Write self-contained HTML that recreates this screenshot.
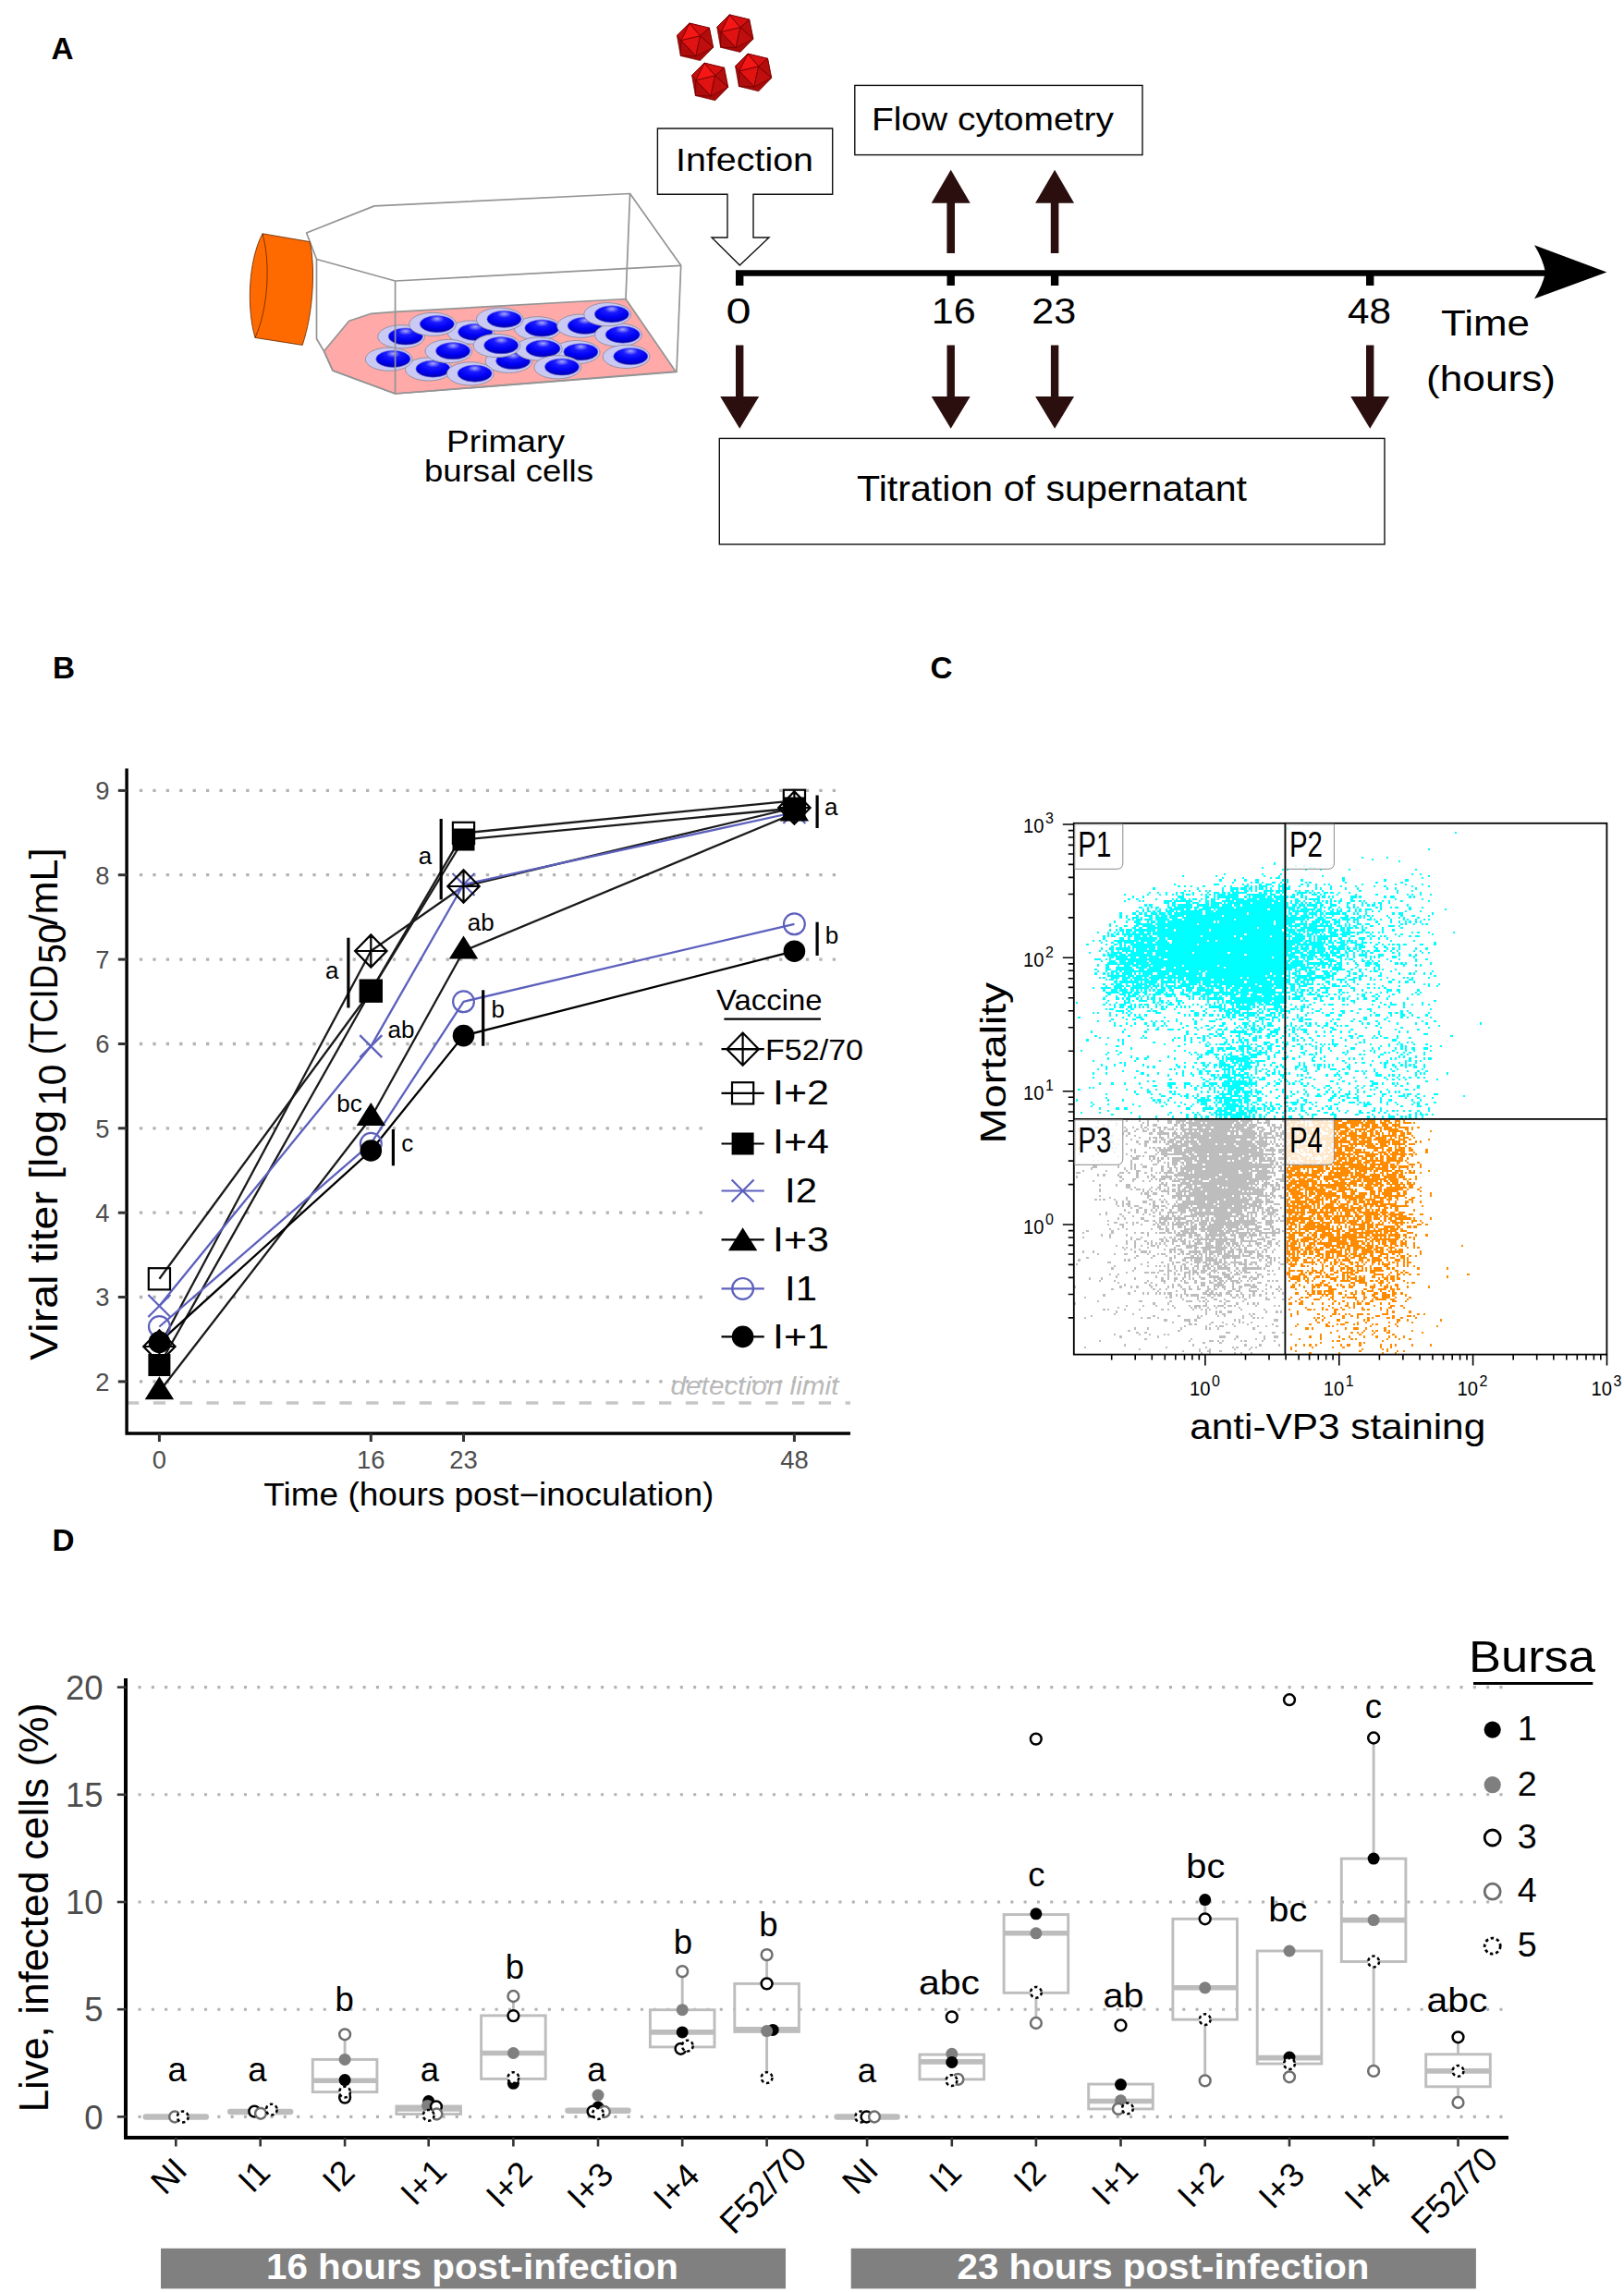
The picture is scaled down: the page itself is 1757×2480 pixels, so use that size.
<!DOCTYPE html>
<html lang="en"><head><meta charset="utf-8"><title>Figure</title>
<style>html,body{margin:0;padding:0;background:#fff}svg{display:block}text{font-family:"Liberation Sans",sans-serif}</style></head>
<body>
<svg width="1757" height="2480" viewBox="0 0 1757 2480">
<rect width="1757" height="2480" fill="#fff"/>
<g id="panelA">
<text x="55.5" y="63.8" font-size="33.3" font-weight="bold">A</text>
<defs><radialGradient id="nuc" cx="50%" cy="28%" r="75%" fx="50%" fy="18%"><stop offset="0" stop-color="#a8a8ff"/><stop offset="0.28" stop-color="#1a1aff"/><stop offset="0.62" stop-color="#0000f4"/><stop offset="1" stop-color="#0000a0"/></radialGradient><g id="cell"><ellipse cx="-4.7" cy="0.3" rx="25.4" ry="12.6" fill="#c9c9f3" stroke="#8c8c9c" stroke-width="0.9"/><ellipse cx="0" cy="0" rx="18.6" ry="9.1" fill="url(#nuc)" stroke="#6a6ad8" stroke-width="0.6"/></g></defs>
<g fill="none" stroke="#949494" stroke-width="1.7" stroke-linejoin="round">
<path d="M681.6,209.5 L677,323.5"/>
<path d="M350.5,380 L377.7,347.3 L401.7,339.3 L427.6,337.4 L677,323.5 L731,402 L427.6,426 L360,401 Z" fill="#ffa9a9"/>
</g>
<use href="#cell" x="438.8" y="364"/>
<use href="#cell" x="514.2" y="359.3"/>
<use href="#cell" x="586.4" y="355"/>
<use href="#cell" x="632.8" y="352.4"/>
<use href="#cell" x="673.7" y="362.1"/>
<use href="#cell" x="555.2" y="390.5"/>
<use href="#cell" x="468.5" y="399.1"/>
<use href="#cell" x="628.4" y="380.8"/>
<use href="#cell" x="587.5" y="377.2"/>
<use href="#cell" x="425.4" y="388.4"/>
<use href="#cell" x="472.8" y="350.6"/>
<use href="#cell" x="545.5" y="345.3"/>
<use href="#cell" x="661.9" y="339.9"/>
<use href="#cell" x="490.1" y="379.7"/>
<use href="#cell" x="542.2" y="373.7"/>
<use href="#cell" x="682.3" y="385.6"/>
<use href="#cell" x="513.6" y="404.1"/>
<use href="#cell" x="608" y="397"/>
<g fill="none" stroke="#949494" stroke-width="1.7" stroke-linejoin="round">
<path d="M331.6,252 L404.9,222.9 L681.6,209.5 L736.7,287.3 L732,402.5 L427.6,426 L360,401 L350.5,380 L342.5,366.5 L342.5,280.5 L331.6,252 Z"/>
<path d="M342.5,280.5 L427.6,304 L736.7,287.3 M427.6,304 L427.6,426"/>
</g>
<path d="M284,252.8 L335.2,261.6 C341.5,290 339,338 327.2,373.4 L276,365.4 C267,335 268,283 284,252.8 Z" fill="#ff6a00" stroke="#5a2500" stroke-width="0.8"/>
<path d="M284,252.8 C293,285 290,335 276,365.4" fill="none" stroke="#5a2500" stroke-width="0.8"/>
<text x="547" y="489" font-size="33.5" text-anchor="middle" textLength="128" lengthAdjust="spacingAndGlyphs">Primary</text>
<text x="550.5" y="521" font-size="33.5" text-anchor="middle" textLength="183" lengthAdjust="spacingAndGlyphs">bursal cells</text>
<defs><g id="ico" stroke="#6a0000" stroke-width="0.7" stroke-linejoin="round"><polygon points="-6,-20.3 15.5,-15.1 19.7,6 5.7,20.3 -15.6,15.1 -19.5,-6.9" fill="#a80a0a"/><polygon points="5.7,-6.5 -6,-20.3 -15.1,-1.5" fill="#f51616"/><polygon points="5.7,-6.5 -15.1,-1.5 0.9,15.5" fill="#e01212"/><polygon points="5.7,-6.5 -6,-20.3 15.5,-15.1" fill="#d41010"/><polygon points="5.7,-6.5 15.5,-15.1 19.7,6" fill="#b50c0c"/><polygon points="5.7,-6.5 19.7,6 0.9,15.5" fill="#c00e0e"/><polygon points="-6,-20.3 -19.5,-6.9 -15.1,-1.5" fill="#c40e0e"/><polygon points="-15.1,-1.5 -15.6,15.1 0.9,15.5" fill="#b00c0c"/></g></defs>
<use href="#ico" x="751.9" y="45.3"/>
<use href="#ico" x="795.2" y="36.2"/>
<use href="#ico" x="768" y="88.4"/>
<use href="#ico" x="815" y="78.4"/>
<g fill="#fff" stroke="#111" stroke-width="1.4">
<path d="M711.4,139 H900.7 V210.3 H815 V257 H832 L800.3,287 L770,257 H787 V210.3 H711.4 Z"/>
<rect x="924.8" y="92.4" width="311.2" height="75.2"/>
<rect x="778.3" y="474.4" width="719.7" height="114.6"/>
</g>
<text x="731" y="184.5" font-size="35" textLength="149" lengthAdjust="spacingAndGlyphs">Infection</text>
<text x="942.9" y="141.4" font-size="35" textLength="262" lengthAdjust="spacingAndGlyphs">Flow cytometry</text>
<text x="927" y="542.4" font-size="38.5" textLength="422" lengthAdjust="spacingAndGlyphs">Titration of supernatant</text>
<path d="M796,295.5 H1675" stroke="#000" stroke-width="6.4" fill="none"/>
<path d="M1738.4,294.5 L1660,265.3 Q1669,280 1672,294.5 Q1669,309 1660,323.3 Z" fill="#000"/>
<rect x="796" y="293" width="8.4" height="16" fill="#000"/>
<rect x="1024.5" y="293" width="8.4" height="16" fill="#000"/>
<rect x="1136.9" y="293" width="8.4" height="16" fill="#000"/>
<rect x="1478" y="293" width="8.4" height="16" fill="#000"/>
<path d="M796,373.4 H804.4 V429 H821.2 L800.2,463.8 L779.2,429 H796 Z" fill="#2b0f0e"/>
<path d="M1024.5,373.4 H1032.9 V429 H1049.7 L1028.7,463.8 L1007.7,429 H1024.5 Z" fill="#2b0f0e"/>
<path d="M1136.9,373.4 H1145.3 V429 H1162.1 L1141.1,463.8 L1120.1,429 H1136.9 Z" fill="#2b0f0e"/>
<path d="M1478,373.4 H1486.4 V429 H1503.2 L1482.2,463.8 L1461.2,429 H1478 Z" fill="#2b0f0e"/>
<path d="M1028.7,183.8 L1049.7,219.7 H1033 V274 H1024.4 V219.7 H1007.7 Z" fill="#2b0f0e"/>
<path d="M1141.1,183.8 L1162.1,219.7 H1145.4 V274 H1136.8 V219.7 H1120.1 Z" fill="#2b0f0e"/>
<text x="799" y="350" font-size="39.5" text-anchor="middle" textLength="27" lengthAdjust="spacingAndGlyphs">0</text>
<text x="1031.8" y="350" font-size="39.5" text-anchor="middle" textLength="48" lengthAdjust="spacingAndGlyphs">16</text>
<text x="1140.2" y="350" font-size="39.5" text-anchor="middle" textLength="48" lengthAdjust="spacingAndGlyphs">23</text>
<text x="1481.5" y="350" font-size="39.5" text-anchor="middle" textLength="47" lengthAdjust="spacingAndGlyphs">48</text>
<text x="1607" y="363" font-size="39.5" text-anchor="middle" textLength="96" lengthAdjust="spacingAndGlyphs">Time</text>
<text x="1613" y="422.7" font-size="39.5" text-anchor="middle" textLength="140" lengthAdjust="spacingAndGlyphs">(hours)</text>
</g>
<g id="panelB">
<text x="57" y="734.4" font-size="33.3" font-weight="bold">B</text>
<g stroke="#b3b3b3" stroke-width="3.3" stroke-dasharray="3.3 11.12" fill="none">
<path d="M150.9,1494.9 H915"/>
<path d="M150.9,1403.5 H915"/>
<path d="M150.9,1312.2 H915"/>
<path d="M150.9,1220.8 H915"/>
<path d="M150.9,1129.5 H915"/>
<path d="M150.9,1038.1 H915"/>
<path d="M150.9,946.7 H915"/>
<path d="M150.9,855.4 H915"/>
</g>
<path d="M137,1518 H920" stroke="#c6c6c6" stroke-width="3.7" stroke-dasharray="13.3 15.5" fill="none"/>
<text x="907.5" y="1509.4" font-size="28.5" text-anchor="end" textLength="182" lengthAdjust="spacingAndGlyphs" fill="#b9b9b9" font-style="italic">detection limit</text>
<polyline points="172.4,1457 401.3,1029 501.5,959 859.4,874" fill="none" stroke="#1a1a1a" stroke-width="2.3" stroke-linejoin="round"/>
<polyline points="172.4,1383.8 401.3,1072.2 501.5,901.4 859.4,866.3" fill="none" stroke="#1a1a1a" stroke-width="2.3" stroke-linejoin="round"/>
<polyline points="172.4,1477 401.3,1072.2 501.5,908.5 859.4,874.5" fill="none" stroke="#1a1a1a" stroke-width="2.3" stroke-linejoin="round"/>
<polyline points="172.4,1413 401.3,1132.1 501.5,957 859.4,879" fill="none" stroke="#5c60bd" stroke-width="2.3" stroke-linejoin="round"/>
<polyline points="172.4,1505.8 401.3,1209.5 501.5,1029 859.4,880" fill="none" stroke="#1a1a1a" stroke-width="2.3" stroke-linejoin="round"/>
<polyline points="172.4,1435.5 401.3,1237.3 501.5,1083.8 859.4,999.8" fill="none" stroke="#5c60bd" stroke-width="2.3" stroke-linejoin="round"/>
<polyline points="172.4,1452.4 401.3,1245 501.5,1120.6 859.4,1029.2" fill="none" stroke="#000" stroke-width="2.3" stroke-linejoin="round"/>
<path d="M160.4,1401 L184.4,1425 M160.4,1425 L184.4,1401" fill="none" stroke="#5c60bd" stroke-width="2.2"/>
<path d="M389.3,1120.1 L413.3,1144.1 M389.3,1144.1 L413.3,1120.1" fill="none" stroke="#5c60bd" stroke-width="2.2"/>
<path d="M489.5,945 L513.5,969 M489.5,969 L513.5,945" fill="none" stroke="#5c60bd" stroke-width="2.2"/>
<path d="M847.4,867 L871.4,891 M847.4,891 L871.4,867" fill="none" stroke="#5c60bd" stroke-width="2.2"/>
<path d="M155.2,1457 L172.4,1439.4 L189.6,1457 L172.4,1474.6 Z M155.2,1457 H189.6 M172.4,1439.4 V1474.6" fill="none" stroke="#000" stroke-width="2.2"/>
<path d="M384.1,1029 L401.3,1011.4 L418.5,1029 L401.3,1046.6 Z M384.1,1029 H418.5 M401.3,1011.4 V1046.6" fill="none" stroke="#000" stroke-width="2.2"/>
<path d="M484.3,959 L501.5,941.4 L518.7,959 L501.5,976.6 Z M484.3,959 H518.7 M501.5,941.4 V976.6" fill="none" stroke="#000" stroke-width="2.2"/>
<path d="M842.2,874 L859.4,856.4 L876.6,874 L859.4,891.6 Z M842.2,874 H876.6 M859.4,856.4 V891.6" fill="none" stroke="#000" stroke-width="2.2"/>
<rect x="160.8" y="1372.2" width="23.2" height="23.2" fill="none" stroke="#000" stroke-width="2.2"/>
<rect x="389.7" y="1060.6" width="23.2" height="23.2" fill="none" stroke="#000" stroke-width="2.2"/>
<rect x="489.9" y="889.8" width="23.2" height="23.2" fill="none" stroke="#000" stroke-width="2.2"/>
<rect x="847.8" y="854.7" width="23.2" height="23.2" fill="none" stroke="#000" stroke-width="2.2"/>
<rect x="160.4" y="1465" width="24" height="24" fill="#000"/>
<rect x="389.3" y="1060.2" width="24" height="24" fill="#000"/>
<rect x="489.5" y="896.5" width="24" height="24" fill="#000"/>
<rect x="847.4" y="862.5" width="24" height="24" fill="#000"/>
<path d="M172.4,1489.2 L188.1,1514.2 H156.7 Z" fill="#000"/>
<path d="M401.3,1192.9 L417,1217.9 H385.6 Z" fill="#000"/>
<path d="M501.5,1012.4 L517.2,1037.4 H485.8 Z" fill="#000"/>
<path d="M859.4,863.4 L875.1,888.4 H843.7 Z" fill="#000"/>
<circle cx="172.4" cy="1435.5" r="11.4" fill="none" stroke="#5c60bd" stroke-width="2.2"/>
<circle cx="401.3" cy="1237.3" r="11.4" fill="none" stroke="#5c60bd" stroke-width="2.2"/>
<circle cx="501.5" cy="1083.8" r="11.4" fill="none" stroke="#5c60bd" stroke-width="2.2"/>
<circle cx="859.4" cy="999.8" r="11.4" fill="none" stroke="#5c60bd" stroke-width="2.2"/>
<circle cx="172.4" cy="1452.4" r="11.8" fill="#000"/>
<circle cx="401.3" cy="1245" r="11.8" fill="#000"/>
<circle cx="501.5" cy="1120.6" r="11.8" fill="#000"/>
<circle cx="859.4" cy="1029.2" r="11.8" fill="#000"/>
<rect x="761" y="1058" width="195" height="416" fill="#fff"/>
<path d="M137.1,831.5 V1551 H920" fill="none" stroke="#000" stroke-width="3.4" stroke-linejoin="miter"/>
<g stroke="#333" stroke-width="3">
<path d="M127.8,1494.9 H137"/>
<path d="M127.8,1403.5 H137"/>
<path d="M127.8,1312.2 H137"/>
<path d="M127.8,1220.8 H137"/>
<path d="M127.8,1129.5 H137"/>
<path d="M127.8,1038.1 H137"/>
<path d="M127.8,946.7 H137"/>
<path d="M127.8,855.4 H137"/>
<path d="M172.4,1551 V1560"/>
<path d="M401.3,1551 V1560"/>
<path d="M501.5,1551 V1560"/>
<path d="M859.4,1551 V1560"/>
</g>
<text x="118.5" y="1504.8" font-size="27.4" text-anchor="end" fill="#4d4d4d">2</text>
<text x="118.5" y="1413.44" font-size="27.4" text-anchor="end" fill="#4d4d4d">3</text>
<text x="118.5" y="1322.08" font-size="27.4" text-anchor="end" fill="#4d4d4d">4</text>
<text x="118.5" y="1230.72" font-size="27.4" text-anchor="end" fill="#4d4d4d">5</text>
<text x="118.5" y="1139.36" font-size="27.4" text-anchor="end" fill="#4d4d4d">6</text>
<text x="118.5" y="1048" font-size="27.4" text-anchor="end" fill="#4d4d4d">7</text>
<text x="118.5" y="956.64" font-size="27.4" text-anchor="end" fill="#4d4d4d">8</text>
<text x="118.5" y="865.28" font-size="27.4" text-anchor="end" fill="#4d4d4d">9</text>
<text x="172.4" y="1588.8" font-size="27.4" text-anchor="middle" fill="#4d4d4d">0</text>
<text x="401.3" y="1588.8" font-size="27.4" text-anchor="middle" fill="#4d4d4d">16</text>
<text x="501.5" y="1588.8" font-size="27.4" text-anchor="middle" fill="#4d4d4d">23</text>
<text x="859.4" y="1588.8" font-size="27.4" text-anchor="middle" fill="#4d4d4d">48</text>
<text x="528.8" y="1629.4" font-size="34.4" text-anchor="middle" textLength="487" lengthAdjust="spacingAndGlyphs">Time (hours post−inoculation)</text>
<text x="62.2" y="1471.9" font-size="42.7" textLength="271" lengthAdjust="spacingAndGlyphs" transform="rotate(-90 62.2 1471.9)">Viral titer [log</text>
<text x="70.8" y="1196.8" font-size="42.7" textLength="45" lengthAdjust="spacingAndGlyphs" transform="rotate(-90 70.8 1196.8)">10</text>
<text x="62.2" y="1141" font-size="42.7" textLength="97" lengthAdjust="spacingAndGlyphs" transform="rotate(-90 62.2 1141)">(TCID</text>
<text x="70.8" y="1042.6" font-size="42.7" textLength="43" lengthAdjust="spacingAndGlyphs" transform="rotate(-90 70.8 1042.6)">50</text>
<text x="62.2" y="1001.5" font-size="42.7" textLength="84" lengthAdjust="spacingAndGlyphs" transform="rotate(-90 62.2 1001.5)">/mL]</text>
<g stroke="#000" stroke-width="3.2">
<path d="M376.9,1014.7 V1090.5"/>
<path d="M477.2,886 V973.4"/>
<path d="M522.7,1071.3 V1131.7"/>
<path d="M425.4,1222 V1261.3"/>
<path d="M884.1,860.5 V896"/>
<path d="M884.1,997.7 V1034"/>
</g>
<text x="359.2" y="1058.8" font-size="26" text-anchor="middle">a</text>
<text x="460" y="935" font-size="26" text-anchor="middle">a</text>
<text x="520.2" y="1007" font-size="26" text-anchor="middle">ab</text>
<text x="538.7" y="1101" font-size="26" text-anchor="middle">b</text>
<text x="434" y="1123.1" font-size="26" text-anchor="middle">ab</text>
<text x="378" y="1202.8" font-size="26" text-anchor="middle">bc</text>
<text x="440.8" y="1246" font-size="26" text-anchor="middle">c</text>
<text x="899.2" y="882.4" font-size="26" text-anchor="middle">a</text>
<text x="900" y="1021" font-size="26" text-anchor="middle">b</text>
<text x="775" y="1093.4" font-size="31.4" textLength="114.5" lengthAdjust="spacingAndGlyphs">Vaccine</text>
<path d="M783.4,1102.7 H888" stroke="#000" stroke-width="2.3"/>
<path d="M780.5,1135.2 H826.8" stroke="#000" stroke-width="2.2"/>
<path d="M786.4,1135.2 L803.6,1117.6 L820.8,1135.2 L803.6,1152.8 Z M786.4,1135.2 H820.8 M803.6,1117.6 V1152.8" fill="none" stroke="#000" stroke-width="2.2"/>
<text x="828" y="1147.2" font-size="31.7" textLength="106" lengthAdjust="spacingAndGlyphs">F52/70</text>
<path d="M780.5,1182.8 H826.8" stroke="#000" stroke-width="2.2"/>
<rect x="792" y="1171.2" width="23.2" height="23.2" fill="none" stroke="#000" stroke-width="2.2"/>
<text x="866.5" y="1195" font-size="37.8" text-anchor="middle" textLength="61" lengthAdjust="spacingAndGlyphs">I+2</text>
<path d="M780.5,1237.5 H826.8" stroke="#000" stroke-width="2.2"/>
<rect x="791.6" y="1225.5" width="24" height="24" fill="#000"/>
<text x="866.5" y="1248" font-size="37.8" text-anchor="middle" textLength="61" lengthAdjust="spacingAndGlyphs">I+4</text>
<path d="M780.5,1288.5 H826.8" stroke="#5c60bd" stroke-width="2.2"/>
<path d="M791.6,1276.5 L815.6,1300.5 M791.6,1300.5 L815.6,1276.5" fill="none" stroke="#5c60bd" stroke-width="2.2"/>
<text x="866.5" y="1300.7" font-size="37.8" text-anchor="middle" textLength="35" lengthAdjust="spacingAndGlyphs">I2</text>
<path d="M780.5,1341.4 H826.8" stroke="#000" stroke-width="2.2"/>
<path d="M803.6,1328.3 L819.3,1353.3 H787.9 Z" fill="#000"/>
<text x="866.5" y="1353.7" font-size="37.8" text-anchor="middle" textLength="61" lengthAdjust="spacingAndGlyphs">I+3</text>
<path d="M780.5,1394.4 H826.8" stroke="#5c60bd" stroke-width="2.2"/>
<circle cx="803.6" cy="1394.4" r="11.4" fill="none" stroke="#5c60bd" stroke-width="2.2"/>
<text x="866.5" y="1406.6" font-size="37.8" text-anchor="middle" textLength="35" lengthAdjust="spacingAndGlyphs">I1</text>
<path d="M780.5,1446.4 H826.8" stroke="#000" stroke-width="2.2"/>
<circle cx="803.6" cy="1446.4" r="11.8" fill="#000"/>
<text x="866.5" y="1458.9" font-size="37.8" text-anchor="middle" textLength="61" lengthAdjust="spacingAndGlyphs">I+1</text>
</g>
<g id="panelC">
<text x="1006.5" y="733.8" font-size="33.3" font-weight="bold">C</text>
<g transform="translate(1161.8,890.8) scale(2.2523,2.2453)" fill="none" stroke-width="1.02" shape-rendering="crispEdges">
<path transform="translate(0,0.5)" stroke="#00ffff" d="M102 2h1M183 4h1M170 12h1M138 16h1M150 16h1M143 17h1M156 18h1M96 19h1M106 20h1M110 20h1M90 21h1M113 21h1M115 21h1M100 22h1M102 22h1M111 22h1M118 22h1M132 22h1M164 22h1M72 24h1M90 24h1M99 24h1M162 24h1M166 24h1M52 25h1M68 25h1M91 25h1M98 25h1M119 25h1M170 25h1M71 26h1M81 26h1M94 26h1M97 26h2M129 26h1M167 26h1M70 27h1M77 27h1M82 27h1M87 27h2M100 27h1M102 27h1M109 27h1M129 27h1M149 27h1M159 27h2M76 28h1M85 28h1M87 28h2M90 28h1M95 28h2M99 28h1M102 28h1M111 28h1M113 28h1M130 28h1M145 28h1M157 28h1M48 29h1M67 29h3M81 29h1M83 29h1M89 29h1M92 29h3M98 29h1M100 29h2M109 29h1M112 29h1M116 29h1M120 29h1M122 29h1M138 29h1M154 29h1M159 29h1M167 29h1M50 30h1M53 30h1M56 30h1M62 30h1M72 30h1M75 30h1M82 30h2M85 30h1M87 30h1M89 30h4M95 30h1M98 30h4M103 30h1M108 30h1M112 30h1M116 30h1M123 30h1M128 30h1M135 30h1M144 30h1M149 30h1M162 30h1M170 30h1M38 31h1M59 31h1M71 31h1M75 31h4M80 31h3M84 31h2M87 31h1M89 31h2M92 31h1M94 31h1M98 31h1M100 31h4M116 31h1M118 31h1M123 31h1M130 31h1M136 31h1M150 31h1M154 31h1M164 31h1M53 32h1M55 32h1M60 32h1M63 32h1M65 32h1M71 32h1M75 32h2M78 32h1M82 32h2M85 32h1M87 32h1M91 32h5M97 32h5M106 32h1M108 32h1M111 32h2M114 32h1M119 32h1M137 32h1M155 32h1M162 32h1M36 33h1M40 33h1M44 33h1M49 33h1M51 33h2M57 33h1M64 33h1M67 33h3M71 33h2M74 33h1M76 33h7M89 33h1M91 33h2M94 33h1M97 33h2M100 33h2M107 33h5M113 33h1M115 33h1M117 33h1M120 33h2M123 33h2M127 33h1M132 33h1M155 33h1M166 33h1M24 34h1M35 34h1M41 34h1M44 34h1M47 34h1M49 34h1M52 34h1M54 34h2M57 34h1M61 34h1M63 34h1M65 34h1M67 34h1M69 34h4M74 34h5M83 34h10M94 34h3M99 34h1M101 34h1M105 34h1M107 34h1M109 34h1M114 34h3M118 34h1M120 34h1M126 34h1M135 34h1M145 34h1M160 34h1M162 34h1M166 34h1M171 34h1M28 35h1M33 35h1M50 35h3M63 35h2M67 35h1M69 35h10M82 35h1M84 35h1M86 35h6M93 35h2M96 35h7M104 35h2M109 35h1M111 35h1M117 35h1M119 35h2M122 35h1M124 35h1M133 35h3M137 35h1M149 35h1M152 35h2M161 35h1M163 35h1M26 36h1M30 36h1M39 36h1M47 36h1M49 36h1M51 36h3M55 36h1M57 36h2M61 36h1M63 36h1M66 36h2M69 36h1M73 36h2M76 36h6M83 36h5M89 36h7M97 36h5M106 36h2M111 36h1M113 36h5M123 36h1M128 36h1M133 36h1M154 36h1M167 36h1M24 37h1M31 37h1M33 37h1M43 37h4M48 37h9M60 37h1M63 37h2M66 37h2M71 37h6M78 37h20M99 37h3M104 37h1M106 37h3M110 37h1M115 37h1M117 37h1M119 37h1M121 37h1M123 37h1M125 37h1M127 37h2M133 37h2M137 37h1M139 37h1M148 37h1M151 37h1M157 37h1M170 37h1M43 38h3M47 38h2M54 38h2M57 38h3M63 38h2M66 38h5M72 38h1M74 38h11M86 38h9M96 38h7M104 38h1M106 38h2M109 38h1M111 38h1M113 38h1M116 38h3M121 38h1M123 38h1M127 38h1M131 38h2M138 38h1M140 38h1M144 38h1M146 38h2M151 38h1M34 39h1M36 39h2M45 39h1M47 39h2M50 39h7M59 39h6M66 39h4M71 39h5M77 39h3M81 39h22M105 39h2M108 39h3M112 39h5M118 39h2M123 39h3M131 39h1M134 39h1M138 39h1M141 39h1M143 39h2M147 39h1M160 39h1M31 40h2M35 40h1M37 40h1M39 40h2M45 40h2M48 40h9M58 40h2M62 40h15M78 40h28M107 40h2M110 40h2M115 40h2M118 40h1M120 40h1M122 40h2M127 40h1M131 40h2M134 40h1M136 40h1M145 40h1M147 40h1M152 40h1M154 40h2M161 40h1M167 40h1M33 41h1M35 41h1M39 41h1M41 41h1M44 41h1M46 41h7M54 41h2M58 41h1M60 41h6M67 41h1M69 41h24M94 41h8M103 41h3M107 41h1M109 41h7M117 41h2M122 41h1M124 41h1M126 41h1M128 41h1M132 41h1M135 41h1M137 41h1M140 41h3M147 41h1M161 41h1M178 41h1M30 42h1M33 42h1M35 42h2M38 42h1M40 42h2M44 42h4M49 42h1M51 42h11M63 42h4M68 42h34M103 42h1M105 42h8M114 42h1M116 42h3M120 42h1M123 42h2M126 42h3M131 42h2M135 42h1M137 42h1M140 42h1M143 42h1M146 42h1M159 42h1M166 42h1M22 43h1M28 43h2M31 43h2M34 43h1M37 43h3M41 43h3M45 43h2M48 43h14M63 43h20M84 43h18M103 43h2M106 43h2M110 43h2M113 43h4M118 43h2M121 43h7M129 43h2M134 43h1M136 43h1M140 43h1M153 43h1M156 43h2M172 43h1M22 44h1M25 44h1M30 44h1M34 44h4M39 44h2M42 44h3M46 44h7M54 44h17M72 44h31M104 44h3M109 44h4M114 44h1M116 44h1M118 44h1M120 44h1M124 44h1M130 44h2M137 44h1M139 44h1M141 44h1M143 44h1M150 44h1M157 44h1M162 44h2M170 44h1M22 45h1M25 45h1M28 45h3M32 45h1M36 45h2M39 45h6M46 45h4M52 45h63M117 45h3M121 45h3M128 45h4M133 45h2M136 45h2M139 45h1M142 45h1M151 45h1M156 45h1M158 45h1M165 45h1M26 46h1M28 46h1M30 46h3M34 46h4M39 46h7M47 46h5M53 46h24M78 46h33M112 46h1M116 46h5M124 46h2M127 46h1M129 46h4M134 46h3M141 46h2M144 46h1M147 46h1M152 46h1M158 46h1M160 46h1M164 46h1M168 46h1M170 46h1M19 47h1M25 47h1M29 47h3M35 47h1M37 47h2M40 47h4M45 47h22M68 47h1M70 47h26M97 47h9M109 47h1M111 47h1M114 47h4M119 47h4M125 47h3M131 47h1M134 47h1M136 47h1M145 47h1M152 47h1M156 47h1M159 47h1M161 47h1M164 47h1M166 47h1M17 48h1M30 48h8M39 48h20M60 48h36M97 48h8M106 48h6M113 48h4M118 48h2M121 48h1M123 48h1M125 48h1M127 48h1M130 48h1M132 48h1M136 48h2M140 48h2M146 48h1M157 48h1M159 48h1M163 48h1M167 48h1M169 48h1M17 49h1M20 49h1M24 49h2M29 49h2M33 49h6M40 49h62M103 49h6M110 49h2M113 49h11M126 49h3M130 49h1M132 49h1M134 49h2M138 49h1M142 49h2M151 49h3M156 49h1M22 50h1M28 50h2M31 50h2M35 50h9M45 50h43M89 50h14M104 50h1M106 50h1M109 50h8M120 50h1M122 50h3M128 50h2M131 50h3M135 50h2M138 50h1M140 50h1M148 50h1M157 50h1M17 51h1M20 51h1M22 51h2M25 51h3M29 51h10M40 51h8M49 51h16M66 51h34M101 51h5M107 51h4M112 51h9M122 51h2M125 51h2M128 51h2M131 51h2M138 51h2M148 51h1M153 51h1M11 52h1M16 52h1M19 52h1M21 52h1M23 52h1M25 52h2M28 52h2M31 52h3M35 52h2M38 52h64M103 52h4M108 52h1M110 52h1M112 52h1M114 52h4M119 52h1M122 52h4M129 52h6M136 52h3M140 52h2M143 52h1M146 52h1M148 52h1M162 52h1M165 52h1M170 52h1M182 52h1M16 53h1M18 53h1M20 53h2M23 53h14M38 53h44M83 53h21M105 53h5M112 53h3M116 53h1M118 53h1M120 53h1M123 53h4M128 53h5M136 53h1M142 53h1M154 53h1M157 53h1M172 53h1M14 54h1M16 54h1M18 54h2M24 54h1M26 54h2M29 54h3M33 54h2M36 54h2M40 54h21M62 54h15M78 54h16M95 54h10M106 54h5M112 54h2M115 54h1M117 54h10M129 54h2M133 54h2M141 54h1M143 54h2M147 54h1M149 54h1M156 54h1M161 54h1M164 54h2M14 55h1M22 55h2M26 55h1M29 55h11M41 55h3M45 55h35M81 55h21M103 55h1M105 55h6M113 55h1M115 55h1M117 55h5M123 55h1M127 55h2M132 55h1M137 55h3M142 55h1M146 55h1M150 55h1M9 56h1M12 56h1M15 56h1M19 56h12M32 56h7M40 56h5M47 56h17M65 56h3M69 56h41M111 56h3M115 56h1M117 56h2M120 56h1M122 56h2M125 56h1M128 56h2M131 56h3M135 56h1M138 56h1M152 56h1M163 56h1M13 57h1M18 57h1M21 57h2M24 57h5M30 57h4M35 57h3M39 57h7M47 57h62M110 57h2M113 57h8M122 57h3M126 57h4M131 57h1M133 57h3M138 57h3M142 57h1M146 57h1M173 57h1M6 58h1M15 58h1M19 58h2M22 58h1M24 58h1M27 58h32M60 58h46M107 58h13M121 58h1M124 58h1M128 58h3M135 58h4M145 58h1M148 58h1M151 58h1M153 58h1M155 58h2M158 58h2M166 58h2M173 58h1M18 59h1M22 59h1M24 59h1M26 59h1M28 59h11M40 59h65M106 59h2M109 59h1M111 59h2M114 59h6M122 59h4M127 59h3M131 59h1M135 59h1M137 59h3M144 59h1M149 59h1M156 59h1M13 60h1M17 60h2M20 60h7M28 60h1M30 60h5M36 60h3M40 60h68M109 60h4M114 60h2M117 60h4M122 60h1M124 60h6M131 60h2M134 60h2M137 60h1M145 60h1M150 60h1M153 60h1M156 60h1M164 60h1M169 60h1M12 61h1M15 61h1M18 61h1M21 61h1M23 61h6M30 61h14M45 61h60M106 61h3M110 61h2M113 61h3M117 61h4M123 61h2M126 61h2M130 61h1M132 61h2M136 61h1M138 61h2M141 61h1M144 61h3M149 61h1M152 61h1M155 61h1M163 61h1M166 61h1M7 62h1M16 62h1M18 62h5M25 62h1M27 62h7M35 62h3M39 62h18M58 62h16M75 62h28M104 62h6M112 62h8M121 62h1M123 62h5M130 62h2M134 62h1M138 62h1M140 62h1M142 62h2M153 62h1M156 62h1M167 62h1M170 62h1M14 63h1M16 63h5M22 63h3M26 63h12M39 63h43M83 63h23M109 63h3M113 63h3M118 63h5M124 63h2M128 63h2M131 63h1M134 63h1M137 63h4M146 63h3M156 63h1M161 63h1M164 63h1M17 64h2M20 64h6M27 64h3M31 64h4M36 64h5M42 64h53M96 64h6M103 64h5M109 64h2M112 64h3M116 64h1M119 64h1M121 64h2M126 64h3M131 64h1M134 64h1M140 64h1M142 64h1M144 64h1M146 64h1M153 64h2M163 64h1M10 65h3M15 65h1M17 65h1M20 65h23M45 65h57M103 65h2M106 65h2M110 65h1M112 65h3M117 65h2M120 65h5M128 65h1M130 65h1M132 65h2M138 65h1M142 65h1M150 65h1M156 65h1M164 65h1M169 65h1M13 66h1M17 66h3M22 66h3M26 66h9M36 66h68M105 66h5M111 66h2M118 66h2M122 66h4M128 66h1M134 66h1M138 66h2M141 66h1M143 66h1M146 66h1M152 66h1M164 66h1M16 67h5M22 67h7M30 67h6M37 67h66M104 67h6M112 67h10M123 67h1M126 67h3M131 67h1M135 67h1M140 67h3M144 67h2M154 67h2M157 67h1M159 67h1M171 67h1M11 68h1M15 68h2M21 68h1M24 68h3M28 68h3M32 68h5M38 68h14M53 68h16M70 68h41M112 68h1M115 68h1M117 68h1M119 68h2M122 68h2M125 68h1M127 68h2M136 68h1M140 68h2M145 68h2M158 68h1M164 68h1M166 68h1M15 69h2M20 69h8M30 69h5M36 69h7M44 69h4M49 69h23M73 69h34M109 69h6M116 69h1M119 69h2M122 69h1M124 69h5M135 69h1M144 69h1M146 69h1M10 70h1M15 70h3M20 70h9M31 70h3M35 70h7M44 70h61M106 70h1M108 70h4M113 70h1M116 70h2M124 70h6M133 70h1M137 70h1M140 70h1M144 70h1M146 70h1M148 70h1M154 70h1M11 71h1M15 71h1M18 71h3M22 71h1M24 71h30M55 71h5M61 71h2M64 71h38M103 71h1M106 71h3M111 71h1M113 71h3M119 71h3M123 71h1M126 71h1M131 71h2M137 71h1M142 71h1M144 71h2M152 71h1M164 71h1M172 71h1M10 72h1M14 72h1M16 72h1M18 72h1M20 72h2M23 72h5M29 72h1M31 72h1M33 72h5M40 72h6M47 72h15M63 72h31M95 72h7M103 72h1M105 72h2M108 72h1M112 72h4M120 72h3M124 72h2M132 72h1M134 72h2M138 72h1M147 72h1M156 72h1M161 72h1M163 72h1M168 72h1M171 72h1M16 73h9M26 73h3M30 73h6M37 73h7M45 73h4M50 73h9M60 73h2M63 73h29M93 73h3M97 73h3M101 73h3M106 73h8M116 73h4M121 73h4M131 73h2M137 73h2M140 73h1M146 73h2M173 73h1M12 74h1M14 74h1M18 74h4M23 74h4M28 74h5M34 74h1M36 74h17M54 74h26M81 74h2M84 74h18M103 74h1M105 74h1M107 74h5M113 74h10M124 74h1M130 74h1M134 74h2M137 74h1M142 74h1M150 74h1M158 74h1M160 74h1M162 74h1M170 74h1M15 75h1M17 75h2M20 75h1M23 75h3M27 75h1M29 75h7M37 75h4M42 75h1M45 75h2M48 75h1M50 75h3M54 75h12M67 75h4M72 75h21M94 75h10M106 75h3M110 75h6M119 75h2M124 75h1M126 75h4M132 75h3M137 75h1M142 75h1M144 75h1M147 75h1M153 75h1M161 75h2M19 76h2M22 76h9M32 76h1M34 76h6M42 76h7M50 76h1M52 76h2M55 76h6M62 76h20M83 76h12M96 76h8M106 76h2M109 76h2M112 76h1M114 76h1M121 76h2M128 76h1M130 76h1M134 76h1M151 76h2M156 76h1M159 76h2M163 76h1M14 77h1M18 77h1M20 77h3M25 77h1M28 77h1M30 77h5M36 77h3M40 77h1M42 77h1M44 77h1M48 77h1M51 77h8M60 77h1M62 77h4M67 77h2M70 77h17M88 77h14M103 77h3M107 77h2M110 77h5M117 77h1M119 77h1M122 77h1M124 77h2M131 77h1M136 77h1M141 77h1M144 77h1M168 77h1M170 77h1M175 77h1M15 78h1M19 78h5M25 78h2M28 78h5M34 78h3M38 78h3M42 78h1M44 78h5M50 78h6M57 78h1M60 78h2M63 78h8M73 78h3M77 78h12M90 78h6M97 78h5M104 78h2M108 78h4M120 78h1M124 78h4M129 78h2M132 78h1M148 78h1M156 78h1M170 78h1M174 78h1M9 79h1M13 79h5M19 79h4M24 79h1M27 79h9M37 79h1M39 79h1M42 79h2M45 79h2M48 79h4M54 79h4M59 79h4M64 79h1M66 79h1M68 79h4M73 79h2M76 79h4M81 79h3M85 79h10M96 79h7M104 79h2M108 79h1M113 79h2M118 79h5M133 79h2M141 79h1M144 79h1M146 79h1M149 79h1M14 80h1M18 80h3M22 80h4M27 80h2M30 80h1M32 80h1M34 80h1M36 80h1M38 80h1M40 80h4M46 80h2M52 80h1M54 80h3M59 80h8M70 80h2M73 80h1M75 80h4M80 80h17M100 80h2M104 80h2M107 80h1M109 80h2M112 80h1M114 80h1M117 80h1M121 80h1M127 80h2M134 80h1M138 80h1M150 80h3M155 80h2M165 80h1M15 81h7M23 81h5M29 81h3M33 81h2M39 81h4M44 81h1M47 81h1M51 81h2M55 81h1M57 81h4M63 81h14M78 81h6M86 81h18M106 81h1M108 81h2M113 81h1M116 81h1M119 81h3M127 81h1M129 81h1M131 81h1M140 81h1M142 81h1M147 81h1M150 81h1M156 81h1M164 81h1M166 81h1M16 82h2M22 82h3M26 82h1M28 82h3M34 82h1M36 82h1M38 82h4M43 82h6M51 82h4M57 82h4M62 82h4M67 82h3M71 82h8M80 82h4M85 82h3M90 82h7M98 82h2M101 82h1M105 82h2M109 82h1M112 82h4M117 82h1M122 82h1M125 82h1M128 82h1M136 82h1M138 82h2M145 82h1M153 82h1M162 82h1M165 82h1M15 83h1M20 83h1M24 83h1M26 83h4M31 83h1M33 83h1M35 83h1M38 83h1M44 83h3M48 83h1M54 83h2M57 83h1M61 83h2M64 83h1M67 83h2M70 83h1M73 83h1M75 83h3M80 83h3M85 83h5M91 83h4M96 83h6M103 83h1M106 83h4M117 83h3M121 83h1M127 83h1M132 83h1M138 83h2M143 83h2M146 83h1M151 83h1M14 84h1M20 84h2M23 84h1M25 84h2M30 84h1M32 84h1M35 84h1M37 84h2M41 84h1M49 84h1M55 84h1M57 84h1M60 84h1M62 84h1M64 84h8M75 84h27M103 84h1M105 84h4M110 84h1M115 84h2M118 84h1M123 84h2M127 84h1M129 84h1M131 84h1M136 84h1M139 84h2M145 84h1M150 84h1M160 84h1M16 85h1M24 85h1M26 85h1M28 85h1M31 85h4M38 85h1M41 85h2M45 85h1M49 85h3M64 85h1M69 85h1M71 85h1M73 85h3M77 85h18M96 85h6M109 85h1M111 85h2M118 85h2M129 85h1M133 85h2M143 85h2M173 85h1M1 86h1M15 86h1M20 86h1M24 86h3M38 86h1M40 86h1M42 86h1M44 86h1M46 86h1M50 86h1M52 86h1M64 86h1M67 86h1M69 86h1M71 86h1M73 86h14M88 86h2M91 86h3M95 86h7M115 86h1M134 86h1M147 86h1M152 86h1M158 86h1M167 86h1M14 87h1M17 87h1M19 87h1M22 87h3M27 87h1M29 87h1M31 87h2M34 87h2M39 87h1M41 87h1M45 87h3M50 87h1M57 87h1M59 87h1M63 87h1M65 87h1M67 87h1M70 87h1M72 87h1M75 87h2M78 87h2M81 87h1M83 87h4M89 87h2M92 87h7M104 87h1M110 87h1M113 87h1M120 87h1M122 87h3M129 87h1M131 87h1M143 87h1M149 87h1M152 87h3M158 87h1M162 87h1M167 87h1M170 87h1M19 88h1M22 88h2M26 88h2M29 88h1M31 88h1M33 88h1M35 88h1M39 88h1M42 88h1M44 88h1M49 88h1M51 88h1M53 88h1M55 88h1M61 88h1M65 88h6M72 88h1M76 88h1M78 88h7M86 88h1M88 88h1M91 88h1M96 88h4M101 88h1M106 88h1M109 88h2M112 88h1M146 88h1M151 88h1M158 88h1M15 89h1M17 89h2M25 89h1M27 89h2M37 89h1M42 89h2M48 89h1M63 89h1M70 89h3M74 89h4M79 89h7M89 89h1M91 89h1M93 89h5M99 89h2M104 89h2M107 89h1M109 89h1M114 89h1M118 89h1M124 89h1M137 89h1M141 89h2M171 89h1M20 90h4M26 90h1M35 90h2M38 90h2M56 90h2M62 90h1M67 90h1M70 90h1M72 90h3M76 90h4M83 90h1M88 90h1M90 90h1M93 90h1M97 90h1M99 90h5M109 90h1M116 90h2M128 90h2M133 90h1M142 90h1M157 90h1M160 90h1M9 91h1M11 91h1M17 91h1M23 91h1M25 91h1M27 91h1M39 91h3M50 91h1M58 91h2M63 91h1M73 91h3M77 91h3M81 91h7M89 91h2M94 91h3M98 91h2M103 91h1M112 91h1M114 91h1M119 91h1M123 91h2M129 91h1M136 91h1M144 91h1M151 91h2M154 91h2M157 91h1M161 91h1M170 91h1M17 92h1M20 92h1M26 92h1M29 92h1M31 92h1M34 92h1M53 92h1M55 92h1M58 92h2M62 92h1M65 92h2M69 92h1M71 92h1M73 92h2M76 92h2M79 92h3M83 92h4M88 92h1M92 92h3M96 92h1M98 92h1M100 92h1M107 92h1M111 92h1M121 92h2M127 92h2M142 92h1M145 92h2M152 92h1M157 92h2M162 92h1M169 92h1M2 93h1M23 93h1M30 93h3M43 93h1M71 93h2M74 93h1M76 93h2M82 93h2M87 93h1M89 93h3M95 93h3M100 93h1M102 93h1M107 93h1M109 93h1M139 93h2M150 93h1M157 93h1M160 93h1M165 93h1M171 93h1M18 94h1M25 94h1M28 94h2M32 94h2M49 94h1M57 94h1M61 94h1M68 94h1M70 94h1M75 94h1M79 94h3M83 94h1M89 94h2M92 94h2M95 94h1M98 94h1M105 94h1M108 94h2M111 94h3M124 94h1M126 94h2M134 94h1M139 94h2M149 94h1M11 95h1M17 95h1M37 95h1M39 95h1M42 95h1M45 95h1M49 95h1M58 95h1M65 95h3M84 95h1M87 95h2M90 95h1M95 95h1M98 95h1M108 95h2M123 95h1M133 95h1M137 95h1M145 95h1M151 95h1M167 95h1M173 95h1M19 96h1M25 96h1M29 96h1M34 96h1M38 96h1M43 96h1M51 96h1M58 96h1M71 96h2M77 96h1M81 96h3M86 96h1M90 96h1M93 96h2M104 96h1M111 96h1M113 96h1M116 96h1M121 96h1M125 96h1M138 96h1M141 96h1M146 96h1M155 96h1M164 96h1M169 96h1M195 96h1M19 97h1M22 97h1M27 97h1M35 97h1M38 97h1M42 97h1M44 97h1M54 97h1M63 97h2M67 97h1M70 97h2M79 97h1M82 97h1M84 97h1M86 97h1M88 97h1M91 97h1M93 97h3M102 97h1M104 97h1M106 97h1M109 97h1M112 97h2M117 97h1M120 97h2M126 97h1M128 97h1M130 97h2M145 97h1M175 97h1M40 98h1M52 98h1M58 98h1M61 98h1M66 98h1M73 98h1M78 98h1M80 98h1M82 98h1M85 98h2M89 98h1M91 98h1M98 98h1M101 98h1M105 98h1M108 98h1M119 98h1M123 98h2M140 98h1M147 98h1M157 98h1M170 98h1M24 99h1M35 99h1M39 99h2M45 99h3M50 99h1M59 99h1M64 99h2M69 99h2M72 99h2M77 99h1M81 99h1M83 99h1M85 99h3M89 99h2M93 99h1M96 99h3M103 99h1M105 99h1M107 99h1M109 99h3M124 99h2M133 99h1M154 99h1M165 99h1M8 100h1M23 100h1M34 100h1M54 100h1M68 100h1M71 100h1M75 100h8M86 100h1M88 100h2M94 100h4M101 100h1M105 100h1M110 100h2M116 100h1M120 100h1M123 100h1M128 100h1M132 100h1M146 100h1M156 100h1M160 100h1M54 101h1M58 101h1M65 101h2M69 101h3M79 101h1M82 101h4M93 101h2M97 101h1M103 101h1M106 101h1M112 101h1M135 101h1M146 101h1M168 101h2M10 102h1M26 102h1M33 102h1M53 102h1M62 102h1M64 102h1M67 102h2M70 102h1M75 102h1M78 102h2M84 102h1M87 102h1M89 102h1M92 102h2M95 102h2M100 102h1M103 102h1M107 102h1M117 102h1M120 102h1M124 102h1M132 102h2M137 102h2M144 102h1M147 102h1M155 102h1M181 102h1M12 103h1M16 103h1M32 103h1M34 103h1M48 103h1M50 103h1M53 103h1M56 103h1M59 103h2M62 103h1M65 103h1M71 103h2M79 103h1M81 103h1M86 103h2M89 103h1M93 103h1M99 103h1M105 103h1M109 103h1M113 103h1M128 103h1M133 103h1M136 103h1M143 103h1M145 103h1M149 103h2M155 103h1M161 103h1M6 104h1M21 104h1M23 104h1M47 104h1M53 104h1M56 104h1M62 104h1M73 104h1M76 104h1M79 104h2M82 104h2M86 104h2M97 104h1M105 104h1M107 104h1M110 104h1M114 104h1M124 104h1M130 104h1M139 104h1M153 104h2M23 105h1M38 105h1M56 105h1M60 105h1M64 105h1M72 105h2M76 105h1M78 105h1M80 105h2M83 105h1M91 105h3M97 105h1M100 105h1M102 105h1M116 105h1M124 105h1M137 105h1M139 105h1M156 105h1M160 105h1M162 105h1M15 106h1M23 106h1M43 106h1M53 106h1M63 106h1M65 106h1M68 106h1M70 106h3M74 106h1M81 106h1M83 106h1M85 106h1M87 106h1M91 106h2M94 106h2M101 106h2M107 106h2M111 106h1M113 106h1M118 106h1M120 106h1M122 106h1M124 106h3M135 106h1M142 106h1M151 106h1M155 106h1M157 106h1M163 106h1M169 106h1M20 107h2M50 107h1M63 107h2M75 107h1M79 107h6M88 107h2M93 107h2M97 107h2M101 107h1M105 107h1M109 107h1M114 107h1M116 107h1M119 107h1M125 107h1M130 107h1M147 107h1M151 107h1M157 107h1M159 107h1M171 107h1M176 107h1M27 108h1M66 108h1M69 108h3M73 108h5M79 108h3M83 108h3M87 108h1M90 108h1M93 108h2M100 108h1M109 108h1M116 108h1M118 108h1M122 108h1M133 108h2M143 108h1M146 108h1M154 108h1M157 108h1M159 108h1M162 108h2M168 108h2M3 109h1M20 109h1M48 109h1M53 109h1M64 109h3M69 109h1M71 109h2M78 109h1M80 109h2M83 109h1M86 109h2M89 109h1M92 109h1M94 109h1M98 109h1M104 109h1M111 109h1M118 109h1M123 109h1M131 109h1M139 109h1M142 109h1M144 109h1M153 109h1M159 109h1M163 109h1M171 109h1M16 110h1M22 110h1M55 110h1M58 110h1M63 110h4M75 110h1M81 110h1M83 110h2M88 110h5M97 110h2M101 110h1M109 110h2M116 110h1M118 110h1M129 110h1M131 110h1M144 110h1M149 110h1M151 110h1M155 110h1M158 110h1M161 110h1M168 110h1M15 111h1M21 111h1M56 111h1M59 111h1M61 111h1M63 111h2M67 111h3M72 111h1M74 111h2M80 111h2M84 111h6M92 111h1M96 111h1M110 111h1M113 111h2M116 111h1M130 111h1M137 111h1M139 111h1M147 111h2M157 111h1M160 111h1M168 111h1M27 112h1M35 112h1M45 112h1M60 112h2M68 112h1M71 112h1M73 112h1M75 112h4M81 112h3M85 112h3M93 112h1M96 112h1M102 112h1M108 112h1M115 112h1M120 112h1M146 112h1M156 112h1M158 112h1M164 112h1M16 113h1M30 113h1M34 113h1M48 113h1M59 113h1M69 113h1M71 113h1M73 113h12M93 113h1M100 113h2M105 113h1M114 113h1M118 113h1M126 113h1M132 113h1M134 113h1M138 113h1M152 113h1M154 113h1M161 113h1M168 113h1M170 113h2M9 114h1M29 114h1M41 114h1M70 114h2M73 114h1M75 114h2M78 114h6M85 114h1M87 114h5M114 114h2M120 114h1M129 114h1M143 114h1M150 114h1M159 114h1M161 114h1M164 114h1M166 114h1M22 115h1M24 115h1M53 115h1M58 115h1M61 115h2M65 115h1M70 115h3M76 115h3M80 115h1M82 115h5M88 115h1M95 115h2M108 115h1M110 115h1M130 115h1M135 115h1M138 115h2M147 115h1M149 115h2M156 115h1M159 115h1M164 115h1M13 116h1M19 116h1M24 116h1M33 116h1M49 116h1M62 116h1M64 116h1M67 116h2M70 116h5M77 116h1M79 116h2M82 116h3M88 116h1M91 116h1M94 116h1M99 116h1M108 116h1M110 116h1M115 116h1M117 116h2M120 116h1M122 116h1M124 116h1M132 116h1M142 116h1M149 116h1M153 116h1M157 116h1M159 116h1M161 116h1M163 116h1M168 116h1M15 117h1M35 117h1M38 117h1M50 117h1M53 117h1M57 117h1M63 117h1M67 117h1M70 117h1M72 117h1M74 117h3M79 117h1M81 117h5M87 117h1M97 117h1M100 117h1M106 117h2M110 117h2M117 117h1M120 117h1M122 117h1M131 117h2M149 117h1M154 117h1M159 117h1M163 117h2M168 117h1M11 118h1M15 118h1M46 118h1M48 118h1M59 118h1M62 118h1M71 118h4M76 118h1M78 118h5M84 118h1M87 118h1M90 118h1M92 118h1M96 118h1M101 118h1M106 118h1M109 118h1M111 118h1M117 118h1M123 118h3M129 118h1M132 118h1M144 118h1M152 118h1M155 118h1M167 118h1M23 119h1M30 119h1M52 119h1M60 119h2M63 119h3M68 119h2M72 119h1M74 119h1M76 119h2M80 119h2M87 119h1M89 119h1M93 119h1M96 119h1M98 119h1M110 119h2M116 119h1M127 119h1M135 119h2M138 119h1M140 119h1M144 119h1M153 119h1M160 119h1M165 119h1M169 119h1M9 120h1M15 120h1M32 120h2M40 120h1M49 120h1M52 120h1M56 120h1M60 120h2M64 120h1M72 120h1M74 120h1M76 120h2M79 120h1M82 120h2M87 120h1M92 120h1M95 120h2M98 120h1M101 120h1M103 120h1M112 120h1M126 120h1M130 120h2M139 120h1M145 120h1M164 120h1M166 120h1M168 120h1M179 120h1M35 121h1M45 121h1M52 121h1M57 121h1M66 121h2M69 121h1M71 121h4M77 121h5M83 121h1M85 121h1M93 121h1M99 121h2M107 121h1M109 121h1M121 121h1M125 121h1M127 121h1M145 121h3M151 121h1M153 121h1M156 121h1M164 121h1M9 122h1M29 122h1M61 122h1M67 122h2M70 122h8M80 122h5M86 122h1M88 122h1M90 122h2M100 122h1M111 122h1M113 122h1M128 122h1M134 122h1M140 122h1M149 122h1M155 122h1M158 122h1M161 122h1M165 122h1M168 122h1M46 123h1M62 123h1M65 123h1M67 123h1M70 123h1M74 123h2M77 123h1M79 123h1M81 123h1M84 123h2M89 123h3M98 123h1M101 123h1M109 123h1M115 123h1M127 123h1M150 123h1M153 123h1M156 123h1M159 123h1M174 123h1M35 124h1M38 124h1M63 124h2M72 124h11M84 124h2M87 124h1M96 124h1M99 124h1M102 124h1M106 124h1M108 124h1M123 124h2M129 124h1M135 124h1M142 124h2M169 124h1M12 125h1M18 125h1M24 125h1M31 125h1M45 125h4M53 125h3M62 125h1M65 125h4M71 125h4M76 125h12M93 125h1M97 125h2M103 125h1M105 125h1M109 125h1M112 125h1M126 125h1M132 125h1M143 125h3M148 125h1M153 125h1M155 125h1M160 125h1M38 126h2M45 126h2M53 126h1M56 126h1M59 126h1M62 126h3M66 126h1M69 126h1M71 126h9M82 126h2M85 126h1M87 126h1M92 126h1M96 126h1M110 126h2M114 126h1M121 126h2M136 126h1M139 126h1M142 126h2M154 126h1M157 126h1M165 126h1M7 127h1M9 127h1M32 127h1M46 127h1M49 127h1M53 127h1M58 127h1M61 127h1M65 127h1M67 127h1M70 127h1M72 127h1M74 127h8M84 127h1M90 127h1M115 127h1M120 127h1M123 127h1M127 127h1M135 127h1M138 127h1M145 127h1M165 127h1M2 128h1M25 128h1M35 128h1M39 128h1M58 128h1M65 128h1M67 128h1M72 128h1M74 128h3M78 128h4M85 128h1M87 128h1M97 128h1M100 128h1M110 128h1M117 128h1M122 128h1M128 128h1M136 128h1M142 128h1M144 128h1M150 128h1M159 128h2M163 128h1M29 129h1M35 129h2M46 129h1M48 129h1M61 129h1M64 129h1M67 129h1M69 129h1M71 129h1M74 129h2M77 129h3M81 129h5M87 129h3M94 129h1M100 129h1M104 129h1M107 129h1M111 129h1M121 129h1M124 129h1M127 129h1M132 129h1M136 129h1M139 129h1M147 129h1M151 129h1M154 129h1M156 129h1M15 130h1M30 130h1M37 130h1M41 130h1M47 130h2M50 130h1M54 130h1M59 130h1M70 130h6M77 130h2M82 130h2M85 130h1M88 130h1M90 130h1M105 130h1M110 130h1M112 130h1M117 130h1M120 130h1M125 130h1M130 130h3M135 130h1M144 130h1M148 130h2M158 130h1M160 130h2M165 130h1M173 130h2M42 131h2M51 131h1M53 131h2M57 131h1M59 131h1M64 131h2M68 131h2M71 131h2M75 131h6M82 131h3M86 131h2M92 131h1M98 131h1M102 131h1M104 131h1M112 131h1M116 131h3M124 131h2M128 131h2M131 131h1M136 131h1M141 131h2M148 131h1M152 131h1M156 131h3M160 131h1M164 131h1M168 131h1M187 131h1M15 132h1M37 132h1M46 132h1M54 132h1M58 132h1M61 132h2M64 132h1M67 132h9M79 132h1M81 132h3M88 132h2M97 132h1M101 132h2M109 132h1M123 132h2M127 132h1M131 132h2M134 132h3M147 132h1M159 132h1M165 132h1M172 132h1M1 133h1M16 133h1M23 133h1M38 133h1M40 133h2M45 133h1M59 133h7M68 133h1M70 133h1M72 133h9M82 133h3M88 133h2M107 133h1M110 133h2M122 133h2M129 133h1M136 133h1M147 133h1M151 133h2M162 133h1M166 133h1M8 134h1M39 134h1M41 134h1M43 134h1M48 134h1M51 134h1M59 134h1M61 134h3M67 134h1M69 134h2M72 134h3M76 134h2M79 134h2M82 134h2M86 134h2M92 134h1M94 134h1M101 134h2M104 134h4M111 134h1M113 134h1M116 134h1M127 134h1M132 134h3M137 134h1M139 134h1M141 134h1M147 134h1M150 134h1M154 134h1M163 134h1M165 134h1M173 134h1M9 135h1M16 135h1M28 135h1M44 135h1M53 135h1M57 135h1M61 135h3M68 135h1M71 135h8M80 135h1M83 135h1M85 135h1M88 135h1M90 135h2M94 135h1M97 135h2M105 135h2M109 135h2M114 135h1M125 135h2M136 135h1M139 135h4M150 135h1M155 135h1M162 135h1M165 135h1M169 135h1M8 136h1M31 136h1M42 136h1M50 136h1M56 136h1M63 136h1M65 136h1M68 136h1M71 136h1M73 136h9M83 136h1M86 136h1M91 136h2M94 136h2M99 136h1M102 136h1M109 136h1M116 136h1M121 136h1M123 136h1M139 136h2M157 136h1M165 136h2M12 137h1M20 137h2M24 137h2M54 137h2M62 137h5M69 137h2M72 137h6M79 137h2M82 137h2M85 137h2M88 137h2M91 137h1M93 137h1M95 137h2M98 137h1M103 137h2M106 137h1M109 137h1M113 137h1M119 137h1M122 137h2M126 137h1M144 137h1M147 137h1M170 137h1M16 138h1M62 138h1M68 138h6M75 138h3M79 138h3M83 138h5M91 138h1M94 138h2M101 138h1M103 138h1M105 138h1M109 138h2M117 138h1M127 138h1M131 138h1M137 138h1M143 138h2M147 138h1M150 138h1M153 138h1M155 138h1M158 138h1M161 138h1M165 138h1M170 138h1M3 139h1M12 139h1M27 139h1M46 139h1M51 139h1M57 139h1M59 139h1M65 139h1M67 139h2M70 139h1M72 139h4M78 139h5M84 139h2M87 139h1M93 139h1M97 139h1M100 139h1M111 139h1M120 139h2M124 139h1M130 139h1M137 139h2M141 139h1M146 139h1M149 139h1M164 139h1M166 139h1M18 140h1M45 140h1M54 140h1M58 140h1M60 140h1M66 140h1M68 140h15M84 140h1M86 140h1M89 140h1M92 140h1M108 140h1M112 140h1M114 140h3M123 140h3M135 140h2M143 140h1M151 140h1M155 140h1M161 140h1M164 140h1M166 140h2M169 140h1M172 140h1M31 141h1M39 141h1M47 141h1M54 141h1M58 141h1M61 141h1M63 141h2M68 141h1M70 141h1M72 141h2M75 141h6M82 141h3M86 141h1M89 141h1M91 141h1M96 141h1M100 141h1M103 141h2M109 141h1M114 141h1M125 141h1M141 141h1M144 141h1M148 141h1M151 141h3M157 141h1M159 141h1M161 141h1M164 141h1M167 141h1"/>
<path transform="translate(0,0.5)" stroke="#bdbdbd" d="M25 143h1M31 143h1M35 143h1M40 143h1M45 143h2M49 143h5M55 143h2M58 143h21M80 143h6M88 143h1M92 143h2M100 143h1M11 144h1M20 144h1M33 144h1M35 144h1M45 144h2M49 144h2M52 144h1M54 144h7M62 144h1M64 144h13M78 144h2M81 144h3M85 144h1M88 144h2M91 144h3M14 145h1M16 145h1M20 145h1M32 145h1M35 145h1M38 145h2M48 145h2M51 145h3M55 145h21M77 145h6M84 145h4M93 145h1M95 145h2M99 145h1M3 146h1M8 146h1M10 146h2M16 146h1M24 146h1M28 146h1M32 146h1M34 146h1M40 146h2M43 146h2M47 146h1M51 146h2M55 146h2M59 146h3M63 146h3M67 146h15M83 146h4M88 146h3M94 146h1M96 146h4M2 147h1M25 147h1M30 147h1M33 147h1M35 147h1M38 147h1M41 147h1M43 147h1M45 147h3M49 147h1M51 147h24M76 147h1M78 147h8M88 147h1M90 147h2M94 147h1M96 147h1M98 147h1M2 148h1M7 148h1M14 148h1M24 148h2M29 148h1M33 148h2M38 148h1M41 148h2M48 148h1M52 148h2M55 148h2M58 148h1M60 148h5M66 148h13M80 148h7M89 148h2M94 148h3M100 148h1M23 149h1M26 149h1M36 149h2M40 149h6M47 149h3M51 149h1M53 149h8M62 149h12M75 149h2M78 149h1M81 149h7M89 149h1M91 149h4M97 149h1M99 149h2M12 150h1M18 150h1M25 150h1M29 150h1M41 150h1M45 150h1M47 150h1M49 150h2M52 150h3M56 150h31M88 150h2M91 150h2M95 150h1M97 150h3M17 151h1M31 151h1M36 151h1M38 151h2M41 151h2M45 151h1M48 151h17M66 151h22M89 151h8M99 151h1M7 152h1M9 152h1M21 152h1M27 152h1M36 152h1M39 152h1M42 152h2M46 152h3M51 152h2M54 152h1M56 152h2M59 152h19M80 152h3M85 152h2M89 152h2M92 152h1M96 152h1M98 152h1M100 152h1M6 153h1M15 153h1M17 153h2M30 153h1M34 153h2M38 153h2M41 153h1M43 153h1M45 153h3M49 153h3M53 153h6M60 153h26M87 153h6M94 153h1M96 153h1M17 154h1M19 154h1M21 154h1M25 154h1M31 154h1M34 154h1M44 154h2M47 154h3M51 154h4M56 154h4M61 154h7M69 154h3M73 154h4M78 154h9M88 154h6M95 154h1M97 154h1M99 154h1M15 155h1M17 155h1M34 155h1M46 155h9M57 155h21M79 155h9M89 155h4M97 155h2M100 155h1M2 156h1M8 156h1M18 156h1M20 156h1M36 156h1M38 156h1M40 156h2M43 156h1M45 156h7M54 156h30M85 156h5M91 156h1M94 156h2M16 157h1M27 157h1M29 157h1M39 157h1M41 157h6M48 157h4M53 157h35M89 157h2M92 157h5M98 157h3M19 158h1M29 158h1M34 158h1M40 158h1M42 158h3M48 158h9M58 158h33M95 158h1M98 158h2M2 159h1M11 159h1M25 159h1M39 159h1M42 159h12M55 159h3M59 159h5M65 159h5M71 159h3M76 159h8M85 159h12M100 159h1M9 160h1M21 160h1M27 160h1M30 160h2M33 160h1M36 160h3M43 160h2M52 160h3M56 160h25M82 160h9M92 160h1M95 160h1M28 161h3M36 161h1M38 161h1M40 161h1M42 161h1M45 161h1M47 161h12M60 161h4M65 161h14M80 161h5M86 161h2M89 161h3M93 161h2M96 161h1M98 161h3M9 162h1M11 162h1M27 162h1M37 162h1M40 162h2M47 162h4M53 162h4M58 162h16M75 162h1M77 162h7M86 162h1M89 162h8M13 163h1M27 163h1M40 163h1M43 163h1M45 163h1M47 163h3M51 163h2M54 163h3M59 163h27M87 163h1M89 163h1M94 163h2M97 163h1M99 163h1M2 164h1M27 164h1M29 164h1M32 164h1M38 164h2M45 164h1M47 164h3M52 164h1M54 164h8M63 164h33M97 164h1M100 164h1M9 165h2M21 165h1M27 165h1M29 165h1M33 165h2M42 165h1M45 165h1M48 165h1M51 165h1M53 165h42M96 165h1M98 165h2M8 166h1M24 166h1M27 166h1M29 166h1M37 166h1M42 166h1M46 166h1M49 166h1M51 166h11M63 166h23M87 166h2M90 166h3M95 166h1M99 166h1M4 167h1M15 167h1M25 167h1M30 167h2M37 167h1M42 167h1M45 167h2M49 167h1M51 167h2M54 167h3M58 167h21M80 167h4M85 167h9M95 167h1M98 167h3M1 168h2M22 168h2M26 168h1M30 168h1M34 168h1M39 168h1M41 168h1M43 168h5M50 168h5M56 168h1M58 168h21M81 168h5M88 168h9M11 169h1M14 169h1M21 169h1M30 169h1M37 169h1M44 169h1M48 169h22M71 169h15M87 169h6M96 169h1M100 169h1M1 170h1M22 170h1M30 170h1M35 170h1M38 170h1M42 170h5M49 170h1M53 170h15M69 170h17M87 170h8M100 170h1M23 171h1M28 171h2M37 171h1M39 171h1M41 171h3M46 171h1M48 171h1M50 171h7M58 171h2M61 171h4M66 171h7M74 171h20M97 171h4M9 172h1M22 172h1M28 172h1M33 172h1M36 172h1M41 172h1M47 172h4M52 172h2M55 172h7M65 172h18M84 172h5M90 172h1M92 172h1M95 172h1M99 172h2M42 173h1M44 173h1M51 173h5M57 173h30M88 173h1M91 173h3M97 173h1M12 174h1M20 174h1M25 174h2M41 174h1M43 174h2M47 174h2M50 174h2M54 174h3M58 174h1M61 174h8M70 174h14M85 174h1M87 174h1M90 174h3M94 174h2M97 174h2M25 175h2M29 175h1M37 175h1M40 175h2M45 175h1M50 175h1M53 175h4M58 175h13M72 175h1M74 175h13M88 175h1M90 175h1M92 175h1M95 175h2M98 175h1M100 175h1M12 176h1M27 176h1M30 176h2M33 176h1M36 176h1M39 176h1M41 176h1M43 176h1M45 176h1M47 176h2M50 176h1M52 176h2M55 176h6M62 176h17M80 176h12M95 176h4M12 177h1M33 177h1M35 177h1M37 177h1M42 177h4M47 177h2M50 177h6M57 177h24M82 177h1M84 177h1M86 177h5M95 177h2M32 178h1M34 178h2M38 178h2M45 178h1M49 178h3M53 178h1M55 178h8M64 178h27M92 178h1M94 178h2M12 179h1M35 179h2M42 179h1M47 179h29M77 179h3M81 179h1M83 179h2M88 179h6M95 179h2M98 179h2M17 180h1M25 180h1M35 180h1M47 180h2M50 180h2M54 180h2M58 180h22M81 180h2M84 180h2M87 180h2M92 180h1M94 180h1M96 180h1M99 180h2M10 181h1M12 181h1M14 181h1M19 181h1M25 181h1M36 181h2M41 181h1M43 181h1M50 181h2M54 181h2M58 181h14M73 181h13M87 181h3M92 181h2M20 182h1M23 182h1M26 182h1M33 182h2M38 182h1M42 182h1M44 182h1M49 182h1M52 182h11M64 182h5M70 182h14M86 182h5M92 182h4M20 183h1M23 183h1M25 183h2M36 183h1M38 183h1M45 183h1M48 183h1M50 183h17M68 183h13M82 183h6M89 183h1M92 183h1M96 183h3M21 184h1M23 184h1M26 184h1M29 184h2M38 184h3M42 184h2M47 184h8M56 184h1M59 184h10M70 184h6M77 184h6M84 184h6M94 184h1M27 185h1M31 185h2M38 185h1M40 185h1M44 185h1M47 185h1M50 185h6M57 185h28M86 185h1M88 185h3M93 185h3M99 185h1M24 186h1M30 186h1M34 186h1M37 186h1M39 186h1M42 186h1M46 186h1M50 186h4M55 186h4M60 186h2M63 186h3M67 186h7M75 186h6M82 186h1M86 186h1M88 186h1M90 186h1M92 186h2M95 186h3M15 187h1M26 187h1M30 187h1M34 187h1M38 187h1M41 187h1M45 187h5M51 187h3M56 187h1M58 187h23M83 187h5M90 187h2M93 187h4M12 188h1M15 188h1M22 188h1M33 188h1M36 188h1M41 188h1M45 188h1M47 188h1M51 188h1M56 188h20M78 188h4M83 188h1M85 188h1M87 188h1M90 188h1M93 188h3M97 188h1M23 189h1M28 189h1M38 189h1M42 189h1M44 189h2M47 189h2M50 189h1M53 189h6M60 189h3M64 189h1M67 189h12M80 189h4M85 189h1M87 189h1M91 189h2M94 189h1M96 189h1M100 189h1M21 190h1M24 190h1M32 190h2M41 190h6M48 190h6M57 190h1M59 190h1M61 190h1M63 190h2M66 190h1M68 190h7M77 190h1M79 190h3M83 190h1M85 190h2M90 190h2M94 190h1M98 190h1M16 191h1M34 191h2M38 191h1M41 191h1M43 191h2M48 191h1M50 191h1M54 191h3M58 191h2M61 191h4M66 191h7M74 191h2M77 191h11M92 191h4M97 191h1M99 191h2M19 192h2M25 192h1M28 192h1M30 192h1M39 192h1M41 192h3M45 192h1M47 192h1M49 192h6M56 192h2M60 192h4M65 192h1M67 192h20M88 192h2M92 192h4M16 193h1M22 193h2M28 193h1M32 193h1M38 193h1M40 193h1M42 193h2M45 193h1M47 193h6M54 193h1M56 193h1M58 193h1M60 193h4M65 193h15M81 193h7M92 193h3M23 194h1M40 194h2M44 194h1M47 194h1M50 194h2M53 194h1M56 194h3M61 194h2M64 194h8M73 194h6M80 194h1M82 194h2M87 194h3M94 194h2M17 195h1M21 195h1M25 195h1M37 195h1M41 195h2M44 195h2M47 195h1M53 195h6M60 195h11M72 195h1M74 195h2M78 195h4M83 195h6M91 195h3M95 195h1M97 195h2M6 196h1M18 196h1M44 196h2M48 196h1M51 196h4M56 196h2M61 196h2M64 196h8M73 196h6M83 196h1M85 196h1M87 196h3M95 196h2M98 196h1M100 196h1M4 197h1M18 197h1M29 197h1M32 197h2M35 197h1M39 197h1M41 197h3M45 197h2M48 197h1M50 197h1M52 197h7M63 197h1M65 197h4M70 197h5M76 197h1M78 197h7M86 197h1M89 197h10M13 198h1M17 198h1M25 198h1M35 198h1M49 198h5M55 198h2M58 198h3M63 198h10M75 198h3M79 198h4M84 198h4M89 198h1M92 198h1M95 198h2M4 199h1M17 199h1M27 199h1M32 199h1M43 199h1M46 199h1M48 199h1M51 199h1M55 199h2M59 199h1M61 199h1M63 199h2M66 199h2M70 199h1M72 199h2M77 199h1M79 199h3M83 199h1M85 199h1M90 199h1M92 199h2M27 200h1M30 200h2M41 200h2M44 200h1M47 200h2M50 200h2M53 200h1M58 200h20M80 200h2M85 200h1M88 200h4M95 200h2M25 201h1M29 201h1M34 201h1M37 201h1M42 201h1M44 201h2M47 201h3M51 201h3M55 201h1M57 201h1M59 201h2M63 201h1M65 201h2M68 201h6M75 201h3M80 201h8M91 201h1M93 201h2M98 201h1M25 202h1M29 202h1M35 202h1M37 202h1M39 202h1M41 202h1M43 202h1M47 202h1M52 202h2M55 202h1M58 202h4M63 202h3M68 202h4M73 202h2M76 202h3M80 202h1M84 202h1M87 202h3M93 202h2M97 202h1M20 203h1M29 203h1M32 203h1M37 203h2M40 203h1M44 203h1M49 203h2M54 203h5M63 203h4M68 203h3M72 203h1M74 203h1M76 203h1M78 203h2M81 203h1M83 203h3M88 203h1M91 203h2M94 203h1M98 203h1M23 204h1M25 204h1M29 204h1M35 204h1M40 204h1M48 204h1M54 204h3M58 204h2M61 204h13M75 204h1M77 204h1M79 204h1M82 204h1M89 204h1M93 204h1M24 205h1M27 205h1M31 205h1M43 205h1M46 205h3M50 205h2M58 205h1M62 205h4M68 205h5M75 205h2M78 205h3M82 205h1M87 205h1M91 205h2M96 205h1M4 206h1M9 206h1M29 206h1M32 206h3M36 206h1M46 206h1M48 206h1M51 206h2M55 206h6M62 206h2M65 206h6M72 206h1M74 206h3M79 206h2M82 206h5M88 206h1M90 206h1M92 206h1M95 206h1M11 207h1M19 207h1M24 207h2M35 207h1M40 207h1M42 207h2M50 207h1M52 207h1M54 207h2M58 207h1M60 207h2M63 207h1M65 207h2M69 207h2M72 207h3M76 207h1M79 207h1M81 207h1M84 207h2M88 207h2M30 208h1M38 208h1M44 208h1M48 208h1M56 208h2M59 208h1M61 208h1M63 208h1M65 208h1M67 208h1M69 208h1M71 208h9M81 208h4M88 208h3M92 208h2M6 209h1M29 209h1M37 209h1M46 209h1M48 209h1M53 209h9M63 209h4M68 209h1M71 209h4M76 209h4M85 209h2M88 209h1M90 209h1M93 209h2M96 209h1M98 209h1M2 210h1M24 210h1M26 210h1M46 210h1M52 210h2M56 210h1M58 210h4M63 210h6M70 210h1M72 210h1M77 210h1M82 210h1M89 210h1M92 210h1M94 210h1M96 210h1M16 211h2M35 211h1M42 211h1M47 211h1M49 211h2M54 211h1M58 211h3M62 211h2M65 211h1M67 211h4M72 211h2M75 211h6M82 211h1M85 211h3M93 211h2M98 211h1M1 212h1M32 212h1M45 212h1M47 212h1M52 212h2M56 212h1M59 212h1M63 212h3M67 212h3M71 212h2M74 212h1M77 212h1M79 212h4M84 212h2M87 212h1M92 212h1M94 212h1M99 212h2M19 213h1M35 213h1M39 213h1M41 213h1M43 213h1M45 213h1M48 213h1M51 213h1M53 213h1M58 213h2M62 213h3M66 213h1M69 213h2M72 213h2M77 213h1M82 213h1M88 213h1M92 213h2M18 214h1M29 214h1M45 214h1M48 214h1M51 214h1M53 214h2M57 214h1M59 214h1M62 214h1M64 214h2M67 214h1M69 214h6M78 214h1M81 214h9M91 214h1M98 214h1M28 215h1M41 215h2M45 215h2M49 215h1M51 215h1M55 215h1M57 215h2M61 215h3M66 215h3M74 215h1M77 215h1M79 215h1M81 215h2M93 215h1M95 215h1M25 216h1M34 216h2M37 216h2M40 216h1M45 216h1M48 216h1M53 216h3M57 216h3M61 216h2M65 216h1M67 216h1M69 216h1M71 216h2M75 216h1M78 216h1M80 216h1M82 216h3M87 216h1M17 217h1M21 217h1M43 217h1M45 217h1M48 217h1M50 217h1M53 217h1M55 217h1M57 217h1M59 217h1M64 217h2M71 217h4M77 217h3M88 217h2M93 217h1M96 217h1M20 218h1M39 218h1M45 218h1M53 218h1M55 218h1M60 218h1M65 218h5M72 218h3M76 218h1M81 218h2M85 218h1M88 218h1M90 218h1M7 219h1M13 219h1M29 219h1M42 219h1M45 219h1M48 219h2M52 219h1M55 219h1M57 219h1M61 219h2M67 219h1M69 219h2M74 219h2M79 219h1M84 219h1M86 219h2M12 220h1M19 220h1M35 220h1M42 220h2M48 220h1M51 220h1M53 220h1M58 220h1M65 220h1M67 220h2M70 220h2M73 220h1M75 220h4M80 220h1M83 220h1M85 220h1M93 220h1M95 220h1M97 220h1M21 221h1M34 221h1M37 221h1M43 221h1M53 221h2M58 221h1M61 221h2M65 221h2M69 221h2M72 221h1M76 221h1M78 221h2M88 221h2M24 222h1M36 222h1M39 222h1M47 222h1M50 222h1M61 222h2M67 222h5M76 222h1M82 222h3M86 222h1M92 222h1M0 223h1M22 223h1M27 223h1M30 223h1M37 223h1M45 223h1M47 223h1M51 223h1M55 223h1M59 223h1M64 223h1M67 223h1M69 223h1M71 223h2M76 223h1M79 223h2M85 223h3M94 223h1M98 223h1M18 224h1M38 224h1M41 224h1M44 224h1M52 224h2M55 224h2M59 224h2M64 224h2M67 224h2M72 224h1M76 224h2M79 224h1M84 224h1M88 224h1M92 224h1M97 224h1M99 224h1M29 225h1M40 225h1M49 225h1M53 225h1M63 225h2M66 225h1M74 225h2M78 225h2M84 225h4M90 225h1M98 225h1M26 226h1M33 226h1M35 226h1M39 226h1M41 226h1M43 226h1M45 226h2M53 226h1M62 226h2M65 226h2M68 226h1M70 226h1M73 226h2M80 226h1M86 226h1M92 226h1M95 226h1M100 226h1M14 227h1M46 227h1M49 227h1M51 227h1M54 227h1M56 227h4M64 227h2M67 227h1M69 227h2M75 227h1M78 227h1M81 227h1M84 227h1M86 227h1M89 227h1M5 228h1M44 228h1M46 228h1M51 228h1M59 228h1M61 228h2M66 228h1M76 228h2M79 228h1M81 228h1M84 228h1M92 228h1M96 228h1M52 229h1M59 229h1M63 229h1M67 229h2M72 229h1M82 229h1M92 229h2M100 229h1M11 230h1M31 230h2M46 230h1M54 230h3M60 230h1M62 230h1M64 230h1M70 230h1M73 230h2M81 230h1M0 231h1M38 231h1M45 231h1M63 231h1M72 231h1M78 231h1M83 231h1M86 231h1M88 231h1M25 232h1M33 232h1M39 232h1M47 232h1M55 232h1M58 232h3M62 232h2M67 232h1M69 232h3M74 232h2M77 232h1M87 232h1M96 232h1M98 232h1M21 233h1M48 233h1M56 233h1M58 233h1M60 233h1M64 233h1M68 233h1M72 233h1M79 233h1M14 234h1M16 234h1M24 234h1M31 234h1M42 234h1M45 234h1M57 234h1M61 234h1M63 234h1M65 234h1M80 234h1M91 234h1M20 235h1M63 235h1M68 235h1M70 235h1M74 235h2M92 235h1M97 235h1M99 235h1M19 236h1M28 236h1M63 236h1M68 236h1M71 236h2M84 236h1M86 236h1M8 237h1M38 237h1M50 237h1M59 237h1M61 237h1M69 237h1M72 237h1M81 237h1M85 237h1M5 238h1M32 238h1M35 238h2M40 238h1M59 238h2M81 238h1M86 238h1M88 238h1M90 238h1M43 239h2M53 239h3M58 239h1M77 239h1M79 239h1M96 239h2M47 240h1M55 240h1M66 240h1M71 240h1M79 240h1M81 240h1M85 240h1M55 241h2M58 241h1M65 241h1M73 241h1M76 241h1M83 241h1M95 241h1M53 242h1M63 242h1M68 242h1M70 242h2M77 242h1M88 242h1M92 242h1M97 242h1M29 243h1M35 243h1M51 243h1M63 243h1M65 243h1M69 243h1M86 243h1M26 244h1M50 244h1M30 245h1M34 245h1M73 245h2M89 245h1M95 245h2M100 245h1M19 246h1M31 246h1M36 246h1M43 246h1M45 246h1M22 247h1M40 247h1M70 247h3M78 247h1M91 247h1M96 247h2M34 248h1M56 248h1M77 248h1M87 248h1M91 248h1M12 249h1M55 249h1M65 249h2M69 249h1M71 249h1M80 249h1M82 249h1M90 249h1M96 249h1M62 250h1M70 250h1M24 251h1M57 251h1M82 251h1M89 251h1M98 251h1M5 252h1M44 252h1M63 252h1M76 252h1M78 252h1M85 252h1M87 252h1M31 253h1M60 253h1M65 253h1M77 253h1M84 253h1M52 254h1M60 254h1M64 254h2M70 254h1M61 255h1M65 255h1M77 255h1M80 255h1M85 255h1"/>
<path transform="translate(0,0.5)" stroke="#ff8c00" d="M102 143h1M104 143h5M110 143h1M114 143h6M121 143h1M124 143h5M131 143h7M139 143h1M141 143h4M147 143h1M149 143h3M154 143h3M158 143h1M102 144h5M108 144h1M110 144h1M112 144h1M114 144h2M117 144h10M129 144h10M140 144h5M147 144h3M151 144h2M154 144h1M156 144h1M158 144h4M163 144h1M102 145h2M105 145h1M107 145h4M112 145h1M115 145h4M120 145h2M124 145h7M133 145h4M138 145h4M143 145h3M148 145h3M153 145h4M103 146h6M110 146h13M124 146h8M133 146h2M138 146h1M140 146h2M143 146h5M149 146h4M154 146h1M156 146h5M162 146h1M165 146h1M102 147h12M116 147h2M119 147h2M122 147h6M130 147h3M135 147h6M142 147h3M147 147h1M149 147h7M159 147h2M162 147h1M104 148h1M106 148h1M108 148h3M112 148h2M115 148h3M120 148h5M126 148h1M128 148h4M133 148h1M135 148h1M137 148h1M139 148h1M141 148h3M145 148h1M147 148h1M151 148h7M160 148h1M171 148h1M102 149h5M108 149h9M118 149h1M122 149h2M125 149h1M127 149h4M132 149h4M138 149h3M142 149h2M145 149h2M148 149h1M151 149h1M153 149h2M157 149h2M160 149h2M102 150h7M110 150h2M114 150h4M119 150h4M124 150h1M126 150h1M128 150h1M130 150h11M142 150h3M146 150h1M148 150h7M156 150h3M162 150h1M102 151h9M112 151h2M115 151h13M129 151h2M133 151h3M137 151h6M145 151h5M152 151h1M154 151h1M156 151h1M158 151h3M163 151h1M103 152h1M105 152h8M114 152h2M117 152h10M128 152h3M133 152h4M138 152h2M141 152h2M144 152h6M151 152h3M156 152h3M161 152h1M170 152h1M102 153h1M104 153h3M108 153h1M111 153h1M113 153h6M121 153h12M134 153h2M137 153h6M146 153h6M153 153h4M158 153h2M164 153h1M166 153h1M103 154h4M108 154h1M110 154h1M112 154h1M116 154h4M121 154h3M125 154h2M128 154h1M132 154h8M141 154h3M145 154h1M147 154h3M151 154h1M153 154h6M161 154h3M102 155h5M108 155h5M114 155h2M117 155h2M121 155h3M125 155h2M128 155h4M133 155h1M135 155h1M138 155h1M140 155h5M147 155h4M154 155h1M156 155h1M159 155h1M102 156h1M104 156h1M106 156h5M113 156h4M119 156h1M121 156h1M123 156h6M130 156h5M141 156h8M151 156h2M154 156h1M156 156h3M161 156h1M102 157h4M108 157h1M110 157h2M113 157h2M116 157h2M120 157h3M124 157h1M126 157h3M130 157h4M135 157h3M139 157h1M144 157h2M148 157h1M150 157h3M154 157h5M161 157h2M169 157h1M102 158h2M105 158h2M109 158h1M111 158h5M117 158h1M119 158h1M121 158h1M123 158h7M132 158h1M134 158h8M143 158h1M146 158h4M151 158h1M153 158h3M157 158h2M163 158h1M169 158h1M102 159h7M114 159h10M125 159h9M135 159h2M140 159h6M147 159h1M149 159h2M152 159h8M161 159h2M164 159h1M102 160h3M106 160h1M108 160h2M111 160h2M114 160h3M118 160h2M122 160h6M129 160h1M131 160h2M134 160h1M136 160h3M140 160h5M147 160h2M150 160h2M153 160h2M157 160h2M162 160h1M102 161h1M104 161h4M109 161h3M113 161h1M115 161h1M119 161h1M121 161h5M127 161h4M132 161h5M138 161h3M142 161h2M145 161h1M147 161h2M150 161h5M156 161h2M160 161h1M103 162h1M107 162h1M110 162h8M119 162h6M126 162h3M130 162h1M132 162h3M136 162h2M140 162h9M150 162h8M159 162h1M102 163h2M105 163h1M108 163h4M113 163h4M118 163h10M129 163h5M136 163h2M139 163h3M143 163h2M147 163h5M155 163h2M160 163h1M165 163h1M102 164h2M105 164h3M110 164h4M115 164h1M117 164h7M125 164h14M140 164h1M142 164h9M152 164h2M155 164h1M161 164h3M166 164h1M103 165h1M105 165h15M121 165h1M124 165h1M126 165h1M128 165h2M132 165h9M142 165h3M146 165h1M148 165h3M152 165h3M156 165h5M162 165h1M166 165h1M102 166h1M104 166h5M110 166h1M112 166h1M114 166h1M117 166h3M121 166h2M124 166h8M133 166h1M135 166h9M145 166h6M153 166h1M156 166h1M160 166h1M102 167h4M107 167h2M112 167h1M114 167h7M123 167h2M126 167h1M128 167h5M135 167h1M137 167h4M142 167h1M144 167h2M148 167h5M154 167h4M161 167h1M163 167h1M170 167h1M102 168h3M106 168h4M111 168h2M114 168h4M119 168h1M122 168h12M135 168h3M139 168h2M144 168h1M147 168h2M150 168h1M153 168h3M157 168h1M159 168h1M161 168h3M166 168h1M103 169h14M118 169h1M122 169h2M125 169h7M133 169h1M135 169h5M142 169h5M148 169h1M150 169h5M156 169h2M102 170h3M107 170h2M110 170h2M114 170h4M120 170h9M130 170h1M133 170h3M137 170h5M143 170h4M149 170h6M156 170h3M164 170h1M103 171h1M105 171h1M108 171h3M112 171h3M117 171h1M120 171h5M127 171h6M134 171h1M136 171h2M139 171h11M151 171h5M158 171h2M161 171h1M164 171h1M102 172h1M104 172h13M118 172h1M121 172h1M124 172h3M128 172h2M133 172h5M139 172h7M147 172h1M149 172h2M152 172h4M160 172h1M103 173h4M108 173h5M114 173h3M118 173h1M122 173h1M125 173h6M132 173h4M138 173h1M141 173h3M145 173h3M150 173h2M153 173h3M157 173h1M160 173h2M163 173h1M102 174h3M106 174h7M114 174h2M117 174h13M131 174h2M134 174h2M137 174h2M140 174h3M144 174h2M147 174h2M152 174h1M154 174h3M158 174h1M161 174h2M102 175h2M105 175h4M110 175h7M118 175h2M121 175h5M127 175h4M132 175h1M139 175h5M146 175h2M150 175h10M161 175h2M166 175h1M102 176h5M108 176h2M111 176h10M124 176h2M127 176h7M135 176h1M140 176h4M146 176h2M149 176h9M160 176h1M165 176h1M103 177h6M111 177h1M113 177h2M116 177h5M122 177h2M126 177h4M133 177h3M142 177h3M146 177h2M149 177h7M158 177h2M166 177h1M102 178h1M104 178h6M111 178h1M113 178h3M117 178h9M129 178h2M133 178h2M137 178h4M142 178h3M146 178h1M148 178h5M155 178h2M158 178h2M171 178h1M102 179h1M105 179h3M109 179h3M113 179h1M116 179h3M120 179h8M129 179h5M135 179h5M142 179h1M144 179h3M149 179h10M166 179h1M171 179h1M103 180h1M105 180h5M111 180h2M115 180h3M119 180h1M121 180h3M126 180h2M129 180h11M142 180h1M144 180h6M151 180h2M154 180h2M159 180h1M162 180h2M102 181h2M106 181h3M111 181h4M116 181h4M121 181h1M123 181h1M125 181h2M130 181h1M132 181h4M137 181h2M140 181h5M147 181h2M150 181h3M155 181h1M161 181h2M102 182h1M104 182h8M113 182h5M119 182h1M123 182h3M127 182h1M131 182h2M134 182h2M137 182h3M141 182h1M143 182h6M151 182h1M154 182h1M159 182h2M162 182h1M166 182h1M102 183h2M105 183h1M107 183h3M111 183h2M114 183h2M117 183h1M119 183h1M121 183h4M126 183h1M128 183h4M134 183h3M139 183h7M147 183h8M159 183h1M102 184h6M109 184h5M115 184h1M117 184h1M120 184h5M127 184h3M131 184h1M133 184h1M137 184h1M139 184h2M142 184h2M145 184h5M152 184h9M167 184h1M103 185h1M105 185h9M115 185h1M117 185h1M119 185h13M133 185h6M140 185h1M142 185h1M146 185h1M149 185h2M152 185h1M154 185h2M102 186h4M107 186h1M109 186h2M113 186h4M118 186h2M121 186h1M123 186h3M127 186h1M129 186h6M136 186h2M140 186h2M143 186h1M145 186h2M148 186h2M154 186h2M163 186h1M102 187h9M112 187h13M126 187h1M128 187h1M130 187h3M134 187h2M137 187h9M147 187h4M152 187h2M156 187h3M103 188h2M106 188h2M109 188h2M114 188h2M117 188h1M120 188h2M124 188h1M126 188h1M128 188h1M130 188h3M135 188h2M139 188h8M148 188h2M151 188h7M161 188h2M166 188h2M103 189h1M105 189h2M108 189h2M113 189h2M117 189h2M120 189h4M125 189h9M135 189h4M140 189h3M144 189h2M147 189h1M149 189h2M152 189h3M156 189h4M102 190h12M115 190h1M117 190h3M121 190h2M124 190h4M129 190h1M131 190h1M134 190h1M136 190h2M140 190h3M144 190h3M149 190h1M151 190h2M154 190h8M163 190h1M171 190h1M102 191h2M105 191h3M109 191h2M113 191h2M118 191h2M123 191h1M125 191h3M129 191h2M132 191h5M138 191h1M140 191h3M147 191h1M149 191h1M152 191h3M157 191h1M162 191h3M166 191h1M102 192h4M108 192h3M112 192h6M119 192h5M125 192h5M131 192h5M138 192h4M143 192h1M146 192h1M148 192h1M151 192h1M153 192h6M160 192h1M162 192h1M167 192h1M102 193h1M104 193h3M108 193h1M111 193h5M117 193h3M121 193h2M127 193h1M130 193h1M133 193h7M141 193h3M145 193h4M154 193h2M157 193h1M165 193h2M169 193h1M103 194h2M106 194h1M108 194h1M110 194h13M124 194h1M126 194h1M128 194h1M130 194h1M132 194h1M134 194h1M137 194h3M141 194h3M145 194h1M149 194h5M155 194h2M160 194h2M163 194h2M102 195h4M108 195h8M117 195h8M126 195h3M132 195h8M141 195h1M144 195h1M146 195h5M152 195h4M157 195h1M104 196h1M106 196h1M108 196h1M111 196h2M116 196h5M122 196h1M124 196h4M129 196h1M132 196h4M138 196h1M140 196h8M149 196h6M157 196h3M102 197h2M105 197h6M113 197h1M115 197h2M119 197h5M126 197h2M130 197h3M134 197h10M145 197h1M147 197h1M149 197h2M152 197h1M154 197h2M160 197h3M103 198h3M108 198h2M112 198h1M114 198h3M118 198h7M126 198h2M129 198h7M137 198h2M140 198h2M143 198h7M151 198h6M158 198h2M164 198h1M169 198h1M102 199h4M110 199h4M115 199h2M118 199h3M122 199h19M142 199h1M144 199h2M147 199h1M149 199h1M151 199h1M154 199h3M159 199h1M161 199h1M163 199h1M103 200h3M107 200h1M109 200h7M117 200h1M119 200h1M122 200h6M129 200h2M132 200h4M140 200h2M143 200h13M158 200h1M163 200h1M102 201h2M105 201h3M109 201h4M115 201h2M118 201h1M122 201h9M133 201h6M140 201h1M142 201h2M145 201h2M148 201h2M151 201h4M157 201h1M159 201h1M102 202h1M104 202h3M108 202h1M110 202h1M113 202h3M117 202h7M126 202h6M133 202h4M138 202h2M141 202h1M143 202h1M146 202h1M148 202h2M152 202h3M157 202h3M163 202h1M102 203h4M108 203h1M110 203h1M112 203h2M115 203h1M120 203h8M129 203h1M131 203h7M140 203h4M145 203h1M149 203h2M152 203h1M154 203h2M157 203h1M159 203h1M163 203h1M186 203h1M102 204h1M104 204h5M111 204h4M116 204h1M118 204h2M121 204h2M124 204h1M126 204h4M131 204h2M134 204h6M141 204h3M145 204h4M151 204h3M160 204h1M163 204h1M165 204h1M102 205h1M104 205h4M109 205h1M111 205h3M115 205h5M123 205h3M128 205h1M130 205h3M134 205h3M138 205h5M144 205h2M147 205h2M150 205h1M152 205h1M154 205h1M156 205h2M102 206h2M105 206h1M107 206h2M110 206h2M113 206h2M116 206h2M121 206h8M130 206h1M132 206h1M134 206h2M138 206h6M145 206h4M151 206h7M166 206h1M102 207h4M107 207h1M109 207h3M113 207h2M117 207h3M121 207h2M124 207h1M126 207h3M130 207h2M133 207h3M137 207h4M142 207h2M147 207h4M153 207h1M156 207h1M160 207h1M166 207h1M103 208h1M105 208h1M107 208h1M110 208h1M116 208h2M119 208h1M121 208h2M124 208h1M126 208h5M132 208h1M134 208h4M139 208h1M142 208h2M146 208h2M150 208h1M155 208h1M157 208h2M161 208h1M164 208h1M102 209h1M104 209h5M112 209h2M115 209h1M118 209h2M121 209h4M126 209h1M130 209h2M133 209h2M137 209h4M143 209h4M149 209h2M152 209h2M157 209h2M160 209h1M102 210h2M105 210h3M110 210h2M114 210h1M117 210h1M120 210h2M125 210h1M127 210h1M129 210h4M137 210h2M141 210h1M143 210h5M150 210h1M154 210h3M158 210h1M160 210h1M102 211h1M104 211h1M106 211h1M110 211h6M118 211h1M120 211h1M123 211h1M125 211h2M128 211h1M132 211h2M135 211h2M138 211h1M140 211h1M143 211h2M146 211h1M148 211h1M151 211h1M153 211h1M155 211h1M158 211h1M160 211h2M103 212h4M109 212h1M114 212h1M116 212h1M119 212h1M123 212h1M125 212h1M128 212h2M133 212h1M136 212h1M139 212h1M143 212h1M146 212h1M148 212h4M155 212h1M158 212h1M160 212h1M104 213h2M109 213h2M112 213h1M119 213h1M121 213h1M124 213h1M127 213h1M130 213h2M135 213h4M142 213h1M149 213h2M155 213h1M158 213h1M160 213h1M163 213h1M103 214h1M114 214h1M119 214h1M123 214h2M128 214h2M131 214h3M136 214h1M138 214h1M140 214h1M142 214h1M144 214h4M150 214h2M153 214h1M165 214h1M179 214h1M103 215h3M107 215h3M112 215h1M114 215h3M118 215h2M123 215h2M126 215h1M128 215h1M131 215h1M133 215h2M136 215h3M140 215h1M142 215h7M154 215h2M158 215h1M102 216h2M109 216h1M111 216h1M113 216h2M116 216h3M120 216h1M125 216h2M129 216h5M135 216h2M142 216h3M152 216h1M155 216h1M157 216h1M159 216h2M102 217h2M108 217h3M113 217h1M118 217h1M121 217h1M123 217h2M129 217h1M131 217h1M133 217h2M144 217h5M151 217h1M155 217h2M158 217h1M161 217h1M165 217h1M189 217h1M103 218h1M105 218h4M110 218h2M116 218h2M119 218h1M121 218h2M126 218h1M129 218h1M131 218h2M135 218h1M137 218h1M139 218h1M143 218h2M148 218h1M150 218h1M152 218h2M155 218h1M179 218h1M104 219h5M110 219h1M112 219h1M115 219h1M123 219h3M129 219h1M131 219h1M133 219h3M137 219h3M146 219h1M149 219h2M152 219h2M155 219h2M103 220h1M107 220h2M111 220h2M114 220h1M119 220h2M125 220h1M128 220h5M135 220h5M142 220h2M145 220h1M147 220h2M150 220h1M153 220h1M158 220h1M106 221h1M112 221h1M118 221h2M122 221h1M133 221h2M137 221h4M146 221h3M151 221h1M160 221h1M162 221h2M105 222h1M108 222h1M114 222h1M116 222h3M120 222h2M126 222h1M128 222h1M132 222h1M134 222h1M140 222h1M144 222h1M147 222h1M150 222h1M154 222h2M104 223h2M110 223h1M114 223h2M117 223h1M122 223h2M129 223h1M132 223h2M142 223h3M149 223h2M152 223h1M155 223h1M160 223h1M170 223h1M106 224h1M114 224h1M122 224h4M139 224h2M143 224h1M146 224h4M152 224h2M155 224h2M111 225h1M114 225h2M117 225h2M120 225h5M130 225h1M135 225h1M138 225h1M141 225h3M147 225h1M151 225h1M153 225h1M106 226h2M112 226h1M114 226h2M117 226h2M120 226h1M122 226h3M127 226h2M133 226h1M135 226h1M138 226h2M144 226h2M148 226h2M153 226h2M157 226h1M113 227h1M119 227h1M121 227h1M124 227h1M130 227h1M134 227h1M139 227h1M143 227h2M148 227h4M153 227h1M159 227h1M104 228h1M109 228h1M111 228h2M118 228h1M123 228h2M129 228h1M131 228h5M139 228h2M144 228h2M148 228h4M154 228h1M161 228h1M103 229h1M108 229h1M115 229h3M122 229h1M124 229h1M135 229h1M139 229h1M143 229h1M145 229h5M152 229h2M160 229h1M106 230h1M109 230h1M125 230h1M129 230h1M136 230h1M138 230h1M142 230h2M153 230h2M159 230h1M103 231h2M108 231h2M114 231h1M119 231h1M124 231h1M127 231h1M131 231h1M134 231h1M136 231h2M140 231h2M147 231h1M151 231h1M122 232h1M130 232h2M134 232h1M144 232h1M152 232h2M157 232h1M111 233h1M119 233h1M124 233h1M128 233h1M132 233h1M134 233h1M138 233h1M147 233h1M151 233h2M158 233h1M103 234h1M112 234h2M115 234h1M119 234h1M121 234h1M125 234h2M129 234h1M138 234h2M141 234h1M147 234h1M150 234h1M107 235h1M125 235h1M150 235h1M153 235h1M161 235h1M104 236h1M107 236h1M117 236h1M124 236h2M127 236h1M130 236h1M132 236h1M136 236h3M141 236h1M148 236h3M165 236h1M168 236h1M104 237h1M119 237h1M123 237h1M129 237h1M133 237h1M136 237h1M145 237h2M153 237h1M160 237h2M163 237h1M115 238h1M117 238h1M120 238h1M129 238h1M136 238h1M141 238h1M143 238h1M150 238h2M153 238h1M157 238h1M164 238h1M116 239h1M119 239h1M126 239h2M139 239h1M141 239h1M155 239h2M160 239h1M176 239h1M117 240h1M122 240h1M130 240h2M136 240h1M140 240h1M151 240h1M155 240h1M162 240h1M107 241h1M113 241h1M121 241h1M126 241h1M128 241h2M134 241h1M136 241h1M143 241h1M145 241h1M154 241h1M106 242h1M121 242h2M124 242h1M142 242h1M151 242h1M155 242h1M174 242h1M111 243h2M114 243h1M130 243h1M134 243h3M140 243h1M149 243h1M126 244h1M139 244h1M143 244h1M145 244h1M149 244h1M151 244h1M162 244h1M123 245h1M133 245h1M136 245h1M138 245h1M144 245h1M150 245h2M167 245h1M104 246h1M118 246h1M137 246h1M143 246h1M153 246h1M113 247h1M118 247h1M127 247h1M132 247h1M139 247h1M145 247h1M151 247h1M154 247h1M158 247h1M108 248h1M118 248h1M129 248h1M133 248h1M135 248h1M150 248h1M156 248h1M161 248h1M124 249h1M126 249h2M148 249h1M118 250h1M137 250h1M139 250h1M106 251h1M110 251h1M113 251h1M116 251h1M128 251h1M131 251h2M137 251h1M147 251h1M152 251h1M154 251h1M162 251h1M171 251h1M104 252h1M114 252h1M124 252h1M129 252h1M147 252h1M152 252h1M104 253h1M138 253h1M148 253h1M150 253h1M106 254h1M137 254h1M150 254h1M155 254h1M158 254h1M113 255h1M127 255h1M148 255h1M154 255h1"/>
</g>
<g fill="none" stroke="#000" stroke-width="1.8">
<rect x="1161.8" y="890.8" width="576.6" height="574.8"/>
<path d="M1390.4,890.8 V1465.6 M1161.8,1210.8 H1738.4"/>
<path d="M1161.8,1425.9h-6M1202.7,1465.6v6M1161.8,1400.5h-6M1228.2,1465.6v6M1161.8,1382.4h-6M1246.3,1465.6v6M1161.8,1368.4h-6M1260.3,1465.6v6M1161.8,1357.0h-6M1271.8,1465.6v6M1161.8,1347.4h-6M1281.5,1465.6v6M1161.8,1339.0h-6M1289.9,1465.6v6M1161.8,1331.6h-6M1297.3,1465.6v6M1161.8,1325.0h-12M1303.9,1465.6v12M1161.8,1281.6h-6M1347.5,1465.6v6M1161.8,1256.1h-6M1373.0,1465.6v6M1161.8,1238.1h-6M1391.1,1465.6v6M1161.8,1224.1h-6M1405.1,1465.6v6M1161.8,1212.7h-6M1416.6,1465.6v6M1161.8,1203.0h-6M1426.3,1465.6v6M1161.8,1194.7h-6M1434.7,1465.6v6M1161.8,1187.3h-6M1442.1,1465.6v6M1161.8,1180.7h-12M1448.8,1465.6v12M1161.8,1137.2h-6M1492.4,1465.6v6M1161.8,1111.8h-6M1517.9,1465.6v6M1161.8,1093.8h-6M1536.0,1465.6v6M1161.8,1079.8h-6M1550.0,1465.6v6M1161.8,1068.4h-6M1561.5,1465.6v6M1161.8,1058.7h-6M1571.2,1465.6v6M1161.8,1050.3h-6M1579.6,1465.6v6M1161.8,1042.9h-6M1587.0,1465.6v6M1161.8,1036.3h-12M1593.6,1465.6v12M1161.8,992.9h-6M1637.2,1465.6v6M1161.8,967.5h-6M1662.7,1465.6v6M1161.8,949.4h-6M1680.8,1465.6v6M1161.8,935.4h-6M1694.8,1465.6v6M1161.8,924.0h-6M1706.3,1465.6v6M1161.8,914.4h-6M1716.0,1465.6v6M1161.8,906.0h-6M1724.4,1465.6v6M1161.8,898.6h-6M1731.8,1465.6v6M1161.8,892.0h-12M1738.5,1465.6v12" stroke-width="1.6"/>
</g>
<path d="M1162.8,891.8 H1214.8 V933.8 Q1214.8,940.3 1208.3,940.3 H1162.8 Z" fill="#fff" fill-opacity="0.8" stroke="#8a8a8a" stroke-width="1"/>
<text x="1166.3" y="927.3" font-size="39" textLength="36" lengthAdjust="spacingAndGlyphs">P1</text>
<path d="M1391.4,891.8 H1443.4 V933.8 Q1443.4,940.3 1436.9,940.3 H1391.4 Z" fill="#fff" fill-opacity="0.8" stroke="#8a8a8a" stroke-width="1"/>
<text x="1394.91" y="927.3" font-size="39" textLength="36" lengthAdjust="spacingAndGlyphs">P2</text>
<path d="M1162.8,1211.8 H1214.8 V1253.8 Q1214.8,1260.3 1208.3,1260.3 H1162.8 Z" fill="#fff" fill-opacity="0.8" stroke="#8a8a8a" stroke-width="1"/>
<text x="1166.3" y="1247.26" font-size="39" textLength="36" lengthAdjust="spacingAndGlyphs">P3</text>
<path d="M1391.4,1211.8 H1443.4 V1253.8 Q1443.4,1260.3 1436.9,1260.3 H1391.4 Z" fill="#fff" fill-opacity="0.8" stroke="#8a8a8a" stroke-width="1"/>
<text x="1394.91" y="1247.26" font-size="39" textLength="36" lengthAdjust="spacingAndGlyphs">P4</text>
<text x="1129.5" y="1334.5" font-size="22" text-anchor="end" textLength="22.5" lengthAdjust="spacingAndGlyphs">10</text>
<text x="1131" y="1324.5" font-size="16">0</text>
<text x="1309.4" y="1509.5" font-size="22" text-anchor="end" textLength="22.5" lengthAdjust="spacingAndGlyphs">10</text>
<text x="1310.9" y="1499.5" font-size="16">0</text>
<text x="1129.5" y="1190.15" font-size="22" text-anchor="end" textLength="22.5" lengthAdjust="spacingAndGlyphs">10</text>
<text x="1131" y="1180.15" font-size="16">1</text>
<text x="1454.25" y="1509.5" font-size="22" text-anchor="end" textLength="22.5" lengthAdjust="spacingAndGlyphs">10</text>
<text x="1455.75" y="1499.5" font-size="16">1</text>
<text x="1129.5" y="1045.8" font-size="22" text-anchor="end" textLength="22.5" lengthAdjust="spacingAndGlyphs">10</text>
<text x="1131" y="1035.8" font-size="16">2</text>
<text x="1599.1" y="1509.5" font-size="22" text-anchor="end" textLength="22.5" lengthAdjust="spacingAndGlyphs">10</text>
<text x="1600.6" y="1499.5" font-size="16">2</text>
<text x="1129.5" y="901.45" font-size="22" text-anchor="end" textLength="22.5" lengthAdjust="spacingAndGlyphs">10</text>
<text x="1131" y="891.45" font-size="16">3</text>
<text x="1743.95" y="1509.5" font-size="22" text-anchor="end" textLength="22.5" lengthAdjust="spacingAndGlyphs">10</text>
<text x="1745.45" y="1499.5" font-size="16">3</text>
<text x="1088" y="1237.4" font-size="38.5" textLength="174.6" lengthAdjust="spacingAndGlyphs" transform="rotate(-90 1088 1237.4)">Mortality</text>
<text x="1447.2" y="1556.5" font-size="38.5" text-anchor="middle" textLength="320" lengthAdjust="spacingAndGlyphs">anti-VP3 staining</text>
</g>
<g id="panelD">
<text x="56.5" y="1677.7" font-size="33.3" font-weight="bold">D</text>
<g stroke="#b3b3b3" stroke-width="3.1" stroke-dasharray="3.1 11.2" fill="none">
<path d="M149.5,2290.4 H1632"/>
<path d="M149.5,2174.2 H1632"/>
<path d="M149.5,2058.0 H1632"/>
<path d="M149.5,1941.8 H1632"/>
<path d="M149.5,1825.6 H1632"/>
</g>
<g fill="none" stroke="#bdbdbd" stroke-width="2.9">
<path d="M157.8,2290.5 H222.8" stroke-width="6.5" stroke-linecap="round"/>
<path d="M249.2,2285 H314.2" stroke-width="6.5" stroke-linecap="round"/>
<path d="M373.1,2201.3 V2228.4"/>
<path d="M373.1,2263.6 V2269.6"/>
<rect x="338.3" y="2228.4" width="69.6" height="35.2"/>
<path d="M338.3,2251.3 H407.9" stroke-width="5.6"/>
<rect x="428.9" y="2279" width="69.6" height="8.5"/>
<path d="M428.9,2282 H498.5" stroke-width="5.6"/>
<path d="M555.4,2160 V2180.9"/>
<path d="M555.4,2249.4 V2254.3"/>
<rect x="520.6" y="2180.9" width="69.6" height="68.5"/>
<path d="M520.6,2221.5 H590.2" stroke-width="5.6"/>
<path d="M614.5,2283.8 H679.5" stroke-width="6.5" stroke-linecap="round"/>
<path d="M738.2,2133.1 V2174.7"/>
<path d="M738.2,2214.9 V2216.8"/>
<rect x="703.4" y="2174.7" width="69.6" height="40.2"/>
<path d="M703.4,2198.9 H773" stroke-width="5.6"/>
<path d="M829.6,2115.1 V2146.4"/>
<path d="M829.6,2198.4 V2248.1"/>
<rect x="794.8" y="2146.4" width="69.6" height="52"/>
<path d="M794.8,2195.7 H864.4" stroke-width="5.6"/>
<path d="M905.6,2290.5 H970.6" stroke-width="6.5" stroke-linecap="round"/>
<rect x="995" y="2223.1" width="69.6" height="26.8"/>
<path d="M995,2230.9 H1064.6" stroke-width="5.6"/>
<path d="M1120.9,2156.3 V2189"/>
<rect x="1086.1" y="2071.6" width="69.6" height="84.7"/>
<path d="M1086.1,2091.8 H1155.7" stroke-width="5.6"/>
<rect x="1177.7" y="2255.1" width="69.6" height="26.8"/>
<path d="M1177.7,2273.5 H1247.3" stroke-width="5.6"/>
<path d="M1303.7,2055.6 V2076.3"/>
<path d="M1303.7,2185.2 V2251.4"/>
<rect x="1268.9" y="2076.3" width="69.6" height="108.9"/>
<path d="M1268.9,2150.8 H1338.5" stroke-width="5.6"/>
<path d="M1395,2233 V2247.3"/>
<rect x="1360.2" y="2111" width="69.6" height="122"/>
<path d="M1360.2,2226.6 H1429.8" stroke-width="5.6"/>
<path d="M1486.1,1880.5 V2011.1"/>
<path d="M1486.1,2122.5 V2240.9"/>
<rect x="1451.3" y="2011.1" width="69.6" height="111.4"/>
<path d="M1451.3,2077.6 H1520.9" stroke-width="5.6"/>
<path d="M1577.5,2204.3 V2222.8"/>
<path d="M1577.5,2257.8 V2275"/>
<rect x="1542.7" y="2222.8" width="69.6" height="35"/>
<path d="M1542.7,2240.9 H1612.3" stroke-width="5.6"/>
</g>
<circle cx="189.1" cy="2290.5" r="5.9" fill="#fff" stroke="#6e6e6e" stroke-width="2.5"/>
<circle cx="197.7" cy="2290.5" r="5.9" fill="#fff" stroke="#000" stroke-width="2.5" stroke-dasharray="3.4 2.9"/>
<circle cx="275.3" cy="2284.6" r="5.9" fill="#fff" stroke="#000" stroke-width="2.5"/>
<circle cx="282" cy="2286.8" r="5.9" fill="#fff" stroke="#6e6e6e" stroke-width="2.5"/>
<circle cx="293.8" cy="2282.6" r="5.9" fill="#fff" stroke="#000" stroke-width="2.5" stroke-dasharray="3.4 2.9"/>
<circle cx="373.1" cy="2269.6" r="5.9" fill="#fff" stroke="#000" stroke-width="2.5"/>
<circle cx="373.1" cy="2201.3" r="5.9" fill="#fff" stroke="#6e6e6e" stroke-width="2.5"/>
<circle cx="373.1" cy="2228.4" r="6.5" fill="#7f7f7f"/>
<circle cx="373.1" cy="2250.6" r="6.5" fill="#000"/>
<circle cx="373.1" cy="2263.6" r="5.9" fill="#fff" stroke="#000" stroke-width="2.5" stroke-dasharray="3.4 2.9"/>
<circle cx="463.7" cy="2273.5" r="6.5" fill="#000"/>
<circle cx="462.5" cy="2278.4" r="6.5" fill="#7f7f7f"/>
<circle cx="471.9" cy="2279.4" r="5.9" fill="#fff" stroke="#000" stroke-width="2.5"/>
<circle cx="472.4" cy="2287.5" r="5.9" fill="#fff" stroke="#6e6e6e" stroke-width="2.5"/>
<circle cx="463.7" cy="2288.8" r="5.9" fill="#fff" stroke="#000" stroke-width="2.5" stroke-dasharray="3.4 2.9"/>
<circle cx="555.4" cy="2160" r="5.9" fill="#fff" stroke="#6e6e6e" stroke-width="2.5"/>
<circle cx="555.4" cy="2181.1" r="5.9" fill="#fff" stroke="#000" stroke-width="2.5"/>
<circle cx="555.4" cy="2221.5" r="6.5" fill="#7f7f7f"/>
<circle cx="555.4" cy="2254.3" r="6.5" fill="#000"/>
<circle cx="555.4" cy="2248.1" r="5.9" fill="#fff" stroke="#000" stroke-width="2.5" stroke-dasharray="3.4 2.9"/>
<circle cx="647" cy="2267.1" r="6.5" fill="#7f7f7f"/>
<circle cx="647" cy="2280.1" r="6.5" fill="#000"/>
<circle cx="641.6" cy="2284.6" r="5.9" fill="#fff" stroke="#000" stroke-width="2.5"/>
<circle cx="653.9" cy="2285" r="5.9" fill="#fff" stroke="#6e6e6e" stroke-width="2.5"/>
<circle cx="647" cy="2287" r="5.9" fill="#fff" stroke="#000" stroke-width="2.5" stroke-dasharray="3.4 2.9"/>
<circle cx="738.2" cy="2133.1" r="5.9" fill="#fff" stroke="#6e6e6e" stroke-width="2.5"/>
<circle cx="738.2" cy="2174.7" r="6.5" fill="#7f7f7f"/>
<circle cx="738.2" cy="2198.9" r="6.5" fill="#000"/>
<circle cx="736.5" cy="2216.8" r="5.9" fill="#fff" stroke="#000" stroke-width="2.5"/>
<circle cx="743.8" cy="2213.6" r="5.9" fill="#fff" stroke="#000" stroke-width="2.5" stroke-dasharray="3.4 2.9"/>
<circle cx="829.6" cy="2115.1" r="5.9" fill="#fff" stroke="#6e6e6e" stroke-width="2.5"/>
<circle cx="829.6" cy="2146.4" r="5.9" fill="#fff" stroke="#000" stroke-width="2.5"/>
<circle cx="836.2" cy="2196.4" r="6.5" fill="#000"/>
<circle cx="829.6" cy="2197.6" r="6.5" fill="#7f7f7f"/>
<circle cx="829.6" cy="2248.1" r="5.9" fill="#fff" stroke="#000" stroke-width="2.5" stroke-dasharray="3.4 2.9"/>
<circle cx="931.2" cy="2290.5" r="5.9" fill="#fff" stroke="#000" stroke-width="2.5" stroke-dasharray="3.4 2.9"/>
<circle cx="937.5" cy="2290.5" r="5.9" fill="#fff" stroke="#000" stroke-width="2.5"/>
<circle cx="946" cy="2290.5" r="5.9" fill="#fff" stroke="#6e6e6e" stroke-width="2.5"/>
<circle cx="1029.8" cy="2182.4" r="5.9" fill="#fff" stroke="#000" stroke-width="2.5"/>
<circle cx="1029.8" cy="2222.3" r="6.5" fill="#7f7f7f"/>
<circle cx="1029.8" cy="2231.4" r="6.5" fill="#000"/>
<circle cx="1036.4" cy="2249.9" r="5.9" fill="#fff" stroke="#6e6e6e" stroke-width="2.5"/>
<circle cx="1029.5" cy="2251.1" r="5.9" fill="#fff" stroke="#000" stroke-width="2.5" stroke-dasharray="3.4 2.9"/>
<circle cx="1120.8" cy="1881.6" r="5.9" fill="#fff" stroke="#000" stroke-width="2.5"/>
<circle cx="1120.9" cy="2070.8" r="6.5" fill="#000"/>
<circle cx="1120.9" cy="2091.8" r="6.5" fill="#7f7f7f"/>
<circle cx="1120.9" cy="2155.8" r="5.9" fill="#fff" stroke="#000" stroke-width="2.5" stroke-dasharray="3.4 2.9"/>
<circle cx="1120.9" cy="2189" r="5.9" fill="#fff" stroke="#6e6e6e" stroke-width="2.5"/>
<circle cx="1212.5" cy="2191.5" r="5.9" fill="#fff" stroke="#000" stroke-width="2.5"/>
<circle cx="1212.5" cy="2255.6" r="6.5" fill="#000"/>
<circle cx="1212.5" cy="2272.8" r="6.5" fill="#7f7f7f"/>
<circle cx="1210" cy="2281.9" r="5.9" fill="#fff" stroke="#6e6e6e" stroke-width="2.5"/>
<circle cx="1219.9" cy="2281.4" r="5.9" fill="#fff" stroke="#000" stroke-width="2.5" stroke-dasharray="3.4 2.9"/>
<circle cx="1303.7" cy="2055.6" r="6.5" fill="#000"/>
<circle cx="1303.7" cy="2076.3" r="5.9" fill="#fff" stroke="#000" stroke-width="2.5"/>
<circle cx="1303.7" cy="2150.8" r="6.5" fill="#7f7f7f"/>
<circle cx="1303.7" cy="2185.2" r="5.9" fill="#fff" stroke="#000" stroke-width="2.5" stroke-dasharray="3.4 2.9"/>
<circle cx="1303.7" cy="2251.4" r="5.9" fill="#fff" stroke="#6e6e6e" stroke-width="2.5"/>
<circle cx="1395" cy="1839.2" r="5.9" fill="#fff" stroke="#000" stroke-width="2.5"/>
<circle cx="1395" cy="2111" r="6.5" fill="#7f7f7f"/>
<circle cx="1395" cy="2226" r="6.5" fill="#000"/>
<circle cx="1395" cy="2233" r="5.9" fill="#fff" stroke="#000" stroke-width="2.5" stroke-dasharray="3.4 2.9"/>
<circle cx="1395" cy="2247.3" r="5.9" fill="#fff" stroke="#6e6e6e" stroke-width="2.5"/>
<circle cx="1486.1" cy="1880.5" r="5.9" fill="#fff" stroke="#000" stroke-width="2.5"/>
<circle cx="1486.1" cy="2011.1" r="6.5" fill="#000"/>
<circle cx="1486.1" cy="2077.6" r="6.5" fill="#7f7f7f"/>
<circle cx="1486.1" cy="2122.5" r="5.9" fill="#fff" stroke="#000" stroke-width="2.5" stroke-dasharray="3.4 2.9"/>
<circle cx="1486.1" cy="2240.9" r="5.9" fill="#fff" stroke="#6e6e6e" stroke-width="2.5"/>
<circle cx="1577.5" cy="2204.3" r="5.9" fill="#fff" stroke="#000" stroke-width="2.5"/>
<circle cx="1577.5" cy="2240.9" r="5.9" fill="#fff" stroke="#000" stroke-width="2.5" stroke-dasharray="3.4 2.9"/>
<circle cx="1577.5" cy="2275" r="5.9" fill="#fff" stroke="#6e6e6e" stroke-width="2.5"/>
<path d="M136,1816 V2313 H1632" fill="none" stroke="#000" stroke-width="4"/>
<g stroke="#333" stroke-width="2.6">
<path d="M126.8,2290.4 H136.6"/>
<path d="M126.8,2174.2 H136.6"/>
<path d="M126.8,2058.0 H136.6"/>
<path d="M126.8,1941.8 H136.6"/>
<path d="M126.8,1825.6 H136.6"/>
<path d="M190.3,2313 V2322.5"/>
<path d="M281.7,2313 V2322.5"/>
<path d="M373.1,2313 V2322.5"/>
<path d="M463.7,2313 V2322.5"/>
<path d="M555.4,2313 V2322.5"/>
<path d="M647,2313 V2322.5"/>
<path d="M738.2,2313 V2322.5"/>
<path d="M829.6,2313 V2322.5"/>
<path d="M938.1,2313 V2322.5"/>
<path d="M1029.8,2313 V2322.5"/>
<path d="M1120.9,2313 V2322.5"/>
<path d="M1212.5,2313 V2322.5"/>
<path d="M1303.7,2313 V2322.5"/>
<path d="M1395,2313 V2322.5"/>
<path d="M1486.1,2313 V2322.5"/>
<path d="M1577.5,2313 V2322.5"/>
</g>
<text x="111.6" y="2303.5" font-size="36.5" text-anchor="end" fill="#4d4d4d">0</text>
<text x="111.6" y="2187.3" font-size="36.5" text-anchor="end" fill="#4d4d4d">5</text>
<text x="111.6" y="2071.1" font-size="36.5" text-anchor="end" fill="#4d4d4d">10</text>
<text x="111.6" y="1954.9" font-size="36.5" text-anchor="end" fill="#4d4d4d">15</text>
<text x="111.6" y="1838.7" font-size="36.5" text-anchor="end" fill="#4d4d4d">20</text>
<text x="51.9" y="2285.6" font-size="44.3" textLength="443" lengthAdjust="spacingAndGlyphs" transform="rotate(-90 51.9 2285.6)">Live, infected cells (%)</text>
<text x="191.6" y="2252.3" font-size="36.6" text-anchor="middle">a</text>
<text x="278.5" y="2252.3" font-size="36.6" text-anchor="middle">a</text>
<text x="372.6" y="2175.5" font-size="36.6" text-anchor="middle">b</text>
<text x="465" y="2252.3" font-size="36.6" text-anchor="middle">a</text>
<text x="557" y="2141" font-size="36.6" text-anchor="middle">b</text>
<text x="645.3" y="2252.3" font-size="36.6" text-anchor="middle">a</text>
<text x="739" y="2114.4" font-size="36.6" text-anchor="middle">b</text>
<text x="831.3" y="2094.7" font-size="36.6" text-anchor="middle">b</text>
<text x="938" y="2253.1" font-size="36.6" text-anchor="middle">a</text>
<text x="1026.9" y="2158.3" font-size="36.6" text-anchor="middle" textLength="66" lengthAdjust="spacingAndGlyphs">abc</text>
<text x="1121.4" y="2040.8" font-size="36.6" text-anchor="middle">c</text>
<text x="1215.5" y="2172.3" font-size="36.6" text-anchor="middle" textLength="44" lengthAdjust="spacingAndGlyphs">ab</text>
<text x="1304.3" y="2032.4" font-size="36.6" text-anchor="middle" textLength="42" lengthAdjust="spacingAndGlyphs">bc</text>
<text x="1393.3" y="2079.2" font-size="36.6" text-anchor="middle" textLength="42" lengthAdjust="spacingAndGlyphs">bc</text>
<text x="1486" y="1858.9" font-size="36.6" text-anchor="middle">c</text>
<text x="1576.6" y="2177.3" font-size="36.6" text-anchor="middle" textLength="66" lengthAdjust="spacingAndGlyphs">abc</text>
<text x="204.4" y="2350.4" font-size="36.6" text-anchor="end" transform="rotate(-45 204.4 2350.4)">NI</text>
<text x="294.5" y="2352.8" font-size="36.6" text-anchor="end" transform="rotate(-45 294.5 2352.8)">I1</text>
<text x="385.8" y="2352.8" font-size="36.6" text-anchor="end" transform="rotate(-45 385.8 2352.8)">I2</text>
<text x="485.4" y="2351.6" font-size="36.6" text-anchor="end" transform="rotate(-45 485.4 2351.6)">I+1</text>
<text x="578" y="2354" font-size="36.6" text-anchor="end" transform="rotate(-45 578 2354)">I+2</text>
<text x="665.7" y="2355.2" font-size="36.6" text-anchor="end" transform="rotate(-45 665.7 2355.2)">I+3</text>
<text x="758.9" y="2356.4" font-size="36.6" text-anchor="end" transform="rotate(-45 758.9 2356.4)">I+4</text>
<text x="874.6" y="2338.4" font-size="36.6" text-anchor="end" transform="rotate(-45 874.6 2338.4)">F52/70</text>
<text x="952.3" y="2350.4" font-size="36.6" text-anchor="end" transform="rotate(-45 952.3 2350.4)">NI</text>
<text x="1042.4" y="2352.8" font-size="36.6" text-anchor="end" transform="rotate(-45 1042.4 2352.8)">I1</text>
<text x="1133.7" y="2352.8" font-size="36.6" text-anchor="end" transform="rotate(-45 1133.7 2352.8)">I2</text>
<text x="1233.3" y="2351.6" font-size="36.6" text-anchor="end" transform="rotate(-45 1233.3 2351.6)">I+1</text>
<text x="1325.9" y="2354" font-size="36.6" text-anchor="end" transform="rotate(-45 1325.9 2354)">I+2</text>
<text x="1413.6" y="2355.2" font-size="36.6" text-anchor="end" transform="rotate(-45 1413.6 2355.2)">I+3</text>
<text x="1506.8" y="2356.4" font-size="36.6" text-anchor="end" transform="rotate(-45 1506.8 2356.4)">I+4</text>
<text x="1622.5" y="2338.4" font-size="36.6" text-anchor="end" transform="rotate(-45 1622.5 2338.4)">F52/70</text>
<rect x="174" y="2432.8" width="676" height="43.6" fill="#808080"/>
<rect x="920.7" y="2432.8" width="676.2" height="43.6" fill="#808080"/>
<text x="511" y="2465.7" font-size="38.5" text-anchor="middle" textLength="446" lengthAdjust="spacingAndGlyphs" fill="#fff" font-weight="bold">16 hours post-infection</text>
<text x="1258.5" y="2465.7" font-size="38.5" text-anchor="middle" textLength="446" lengthAdjust="spacingAndGlyphs" fill="#fff" font-weight="bold">23 hours post-infection</text>
<text x="1657.5" y="1809" font-size="48" text-anchor="middle" textLength="137" lengthAdjust="spacingAndGlyphs">Bursa</text>
<path d="M1594,1821.6 H1723.3" stroke="#000" stroke-width="3"/>
<circle cx="1614.7" cy="1871.6" r="9.1" fill="#000"/>
<text x="1652.3" y="1883" font-size="37.8" text-anchor="middle" textLength="21" lengthAdjust="spacingAndGlyphs">1</text>
<circle cx="1614.7" cy="1931.2" r="9.1" fill="#7f7f7f"/>
<text x="1652.3" y="1942.6" font-size="37.8" text-anchor="middle" textLength="21" lengthAdjust="spacingAndGlyphs">2</text>
<circle cx="1614.7" cy="1988.5" r="8.5" fill="#fff" stroke="#000" stroke-width="2.8"/>
<text x="1652.3" y="1999.9" font-size="37.8" text-anchor="middle" textLength="21" lengthAdjust="spacingAndGlyphs">3</text>
<circle cx="1614.7" cy="2046.7" r="8.5" fill="#fff" stroke="#6e6e6e" stroke-width="2.8"/>
<text x="1652.3" y="2058.1" font-size="37.8" text-anchor="middle" textLength="21" lengthAdjust="spacingAndGlyphs">4</text>
<circle cx="1614.7" cy="2105.6" r="8.5" fill="#fff" stroke="#000" stroke-width="2.8" stroke-dasharray="3.4 2.9"/>
<text x="1652.3" y="2117" font-size="37.8" text-anchor="middle" textLength="21" lengthAdjust="spacingAndGlyphs">5</text>
</g>
</svg>
</body></html>
